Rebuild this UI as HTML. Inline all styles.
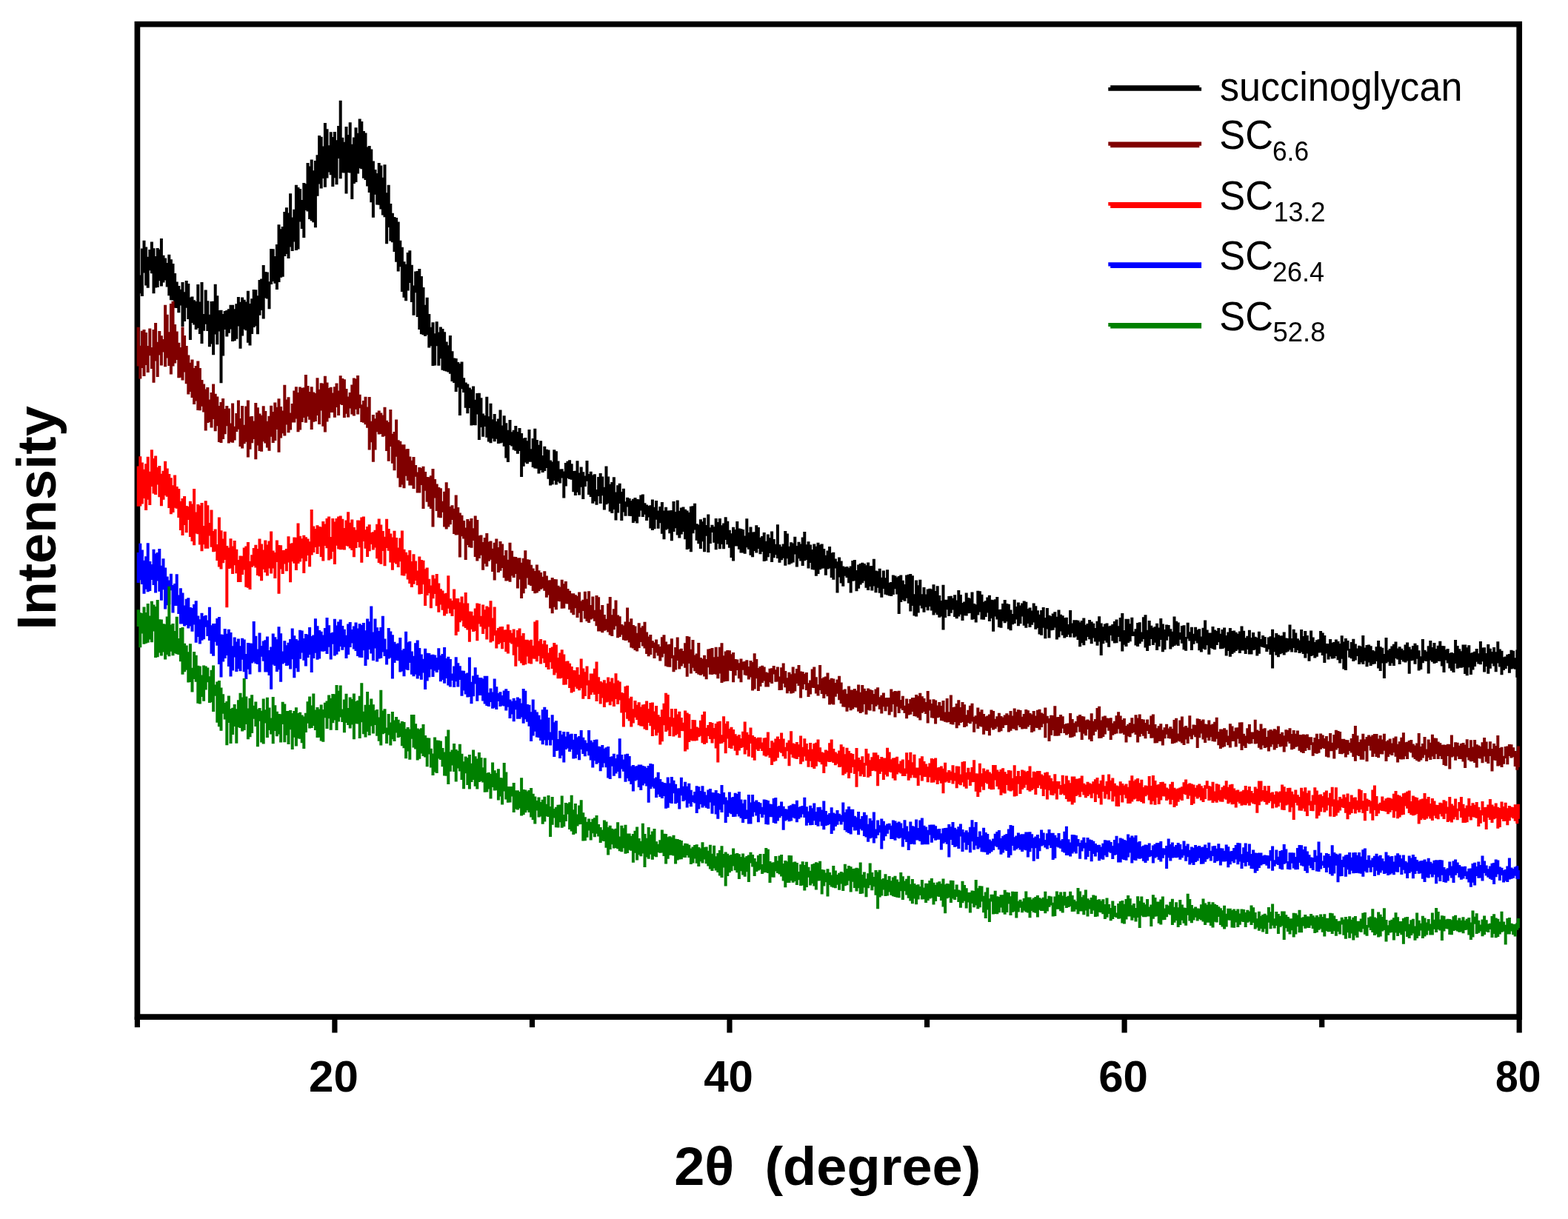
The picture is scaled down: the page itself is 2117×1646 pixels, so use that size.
<!DOCTYPE html>
<html><head><meta charset="utf-8"><title>XRD</title>
<style>
html,body{margin:0;padding:0;background:#fff;width:2117px;height:1646px;overflow:hidden}
svg{display:block}
text{font-family:"Liberation Sans",Arial,sans-serif;fill:#000}
.tl{font-size:60px;font-weight:bold;text-anchor:middle}
.ax{font-size:72.5px;font-weight:bold;white-space:pre}
.lg{font-size:55.5px}
.sub{font-size:36.5px}
</style></head><body>
<svg width="2117" height="1646" viewBox="0 0 2117 1646">
<rect width="2117" height="1646" fill="#fff"/>
<rect x="185.4" y="32.7" width="1865.8" height="1340.4" fill="none" stroke="#000" stroke-width="7.7"/>
<g fill="none" stroke-width="4.00" stroke-linecap="butt">
<path d="M186.7 341.0V377.6M189.3 371.6V396.3M191.9 335.6V399.9M194.5 324.8V368.5M197.1 333.5V385.5M199.7 346.7V388.7M202.3 337.1V365.3M204.9 326.5V369.2M207.5 335.2V396.3M210.1 346.0V388.5M212.7 335.0V388.1M215.3 336.7V379.2M217.9 321.9V386.4M220.5 344.8V381.5M223.1 348.6V378.5M225.7 355.0V387.6M228.3 343.7V399.2M230.9 350.2V405.2M233.5 356.0V405.5M236.1 369.0V415.7M238.7 380.4V416.1M241.3 386.0V422.3M243.9 390.7V412.5M246.5 381.1V440.9M249.1 394.3V434.1M251.7 379.1V415.8M254.3 382.9V430.9M256.9 401.4V459.1M259.5 400.5V436.1M262.1 405.3V438.6M264.7 407.0V444.9M267.3 383.9V443.1M269.9 407.6V451.0M272.5 381.0V464.1M275.1 424.0V446.8M277.7 391.6V437.8M280.3 406.2V446.9M282.9 424.7V468.3M285.5 407.1V464.5M288.1 406.7V479.2M290.7 383.7V451.5M293.3 399.3V465.3M295.9 418.9V447.6M298.5 418.7V517.3M301.1 424.1V480.6M303.7 420.0V445.0M306.3 419.0V454.4M308.9 417.2V449.7M311.5 411.8V444.6M314.1 411.7V461.1M316.7 417.2V460.2M319.3 410.3V457.7M321.9 401.1V440.4M324.5 407.8V470.7M327.1 401.6V453.4M329.7 404.7V444.7M332.3 407.6V446.2M334.9 392.7V462.8M337.5 410.1V466.5M340.1 403.2V451.1M342.7 391.0V442.0M345.3 391.3V440.2M347.9 399.3V451.2M350.5 378.0V425.7M353.1 376.5V418.9M355.7 358.1V430.4M358.3 367.0V402.5M360.9 367.6V403.4M363.5 380.2V417.3M366.1 336.1V384.1M368.7 336.3V379.9M371.3 345.9V382.8M373.9 329.9V391.1M376.5 303.3V381.0M379.1 309.2V374.8M381.7 305.9V373.8M384.3 286.0V345.9M386.9 280.3V343.0M389.5 287.5V349.0M392.1 261.2V333.5M394.7 293.4V338.9M397.3 282.7V326.6M399.9 249.7V338.0M402.5 253.0V336.5M405.1 254.9V299.5M407.7 269.9V309.0M410.3 247.1V321.0M412.9 248.2V284.1M415.5 219.9V285.4M418.1 224.4V296.1M420.7 215.5V298.2M423.3 230.2V300.3M425.9 217.0V307.3M428.5 209.3V264.7M431.1 183.0V248.5M433.7 184.8V254.5M436.3 197.4V240.9M438.9 165.9V252.7M441.5 174.3V240.4M444.1 196.3V232.6M446.7 178.2V236.3M449.3 184.9V251.9M451.9 178.0V240.2M454.5 189.2V249.2M457.1 170.0V214.1M459.7 135.7V241.3M462.3 185.7V233.2M464.9 191.7V233.5M467.5 171.0V261.4M470.1 181.9V232.9M472.7 165.2V233.5M475.3 194.8V269.0M477.9 185.4V248.0M480.5 172.2V246.1M483.1 179.8V234.4M485.7 160.4V227.2M488.3 164.1V228.2M490.9 177.0V240.7M493.5 179.5V243.1M496.1 198.5V251.4M498.7 197.0V260.1M501.3 201.5V273.2M503.9 217.6V293.7M506.5 229.1V262.8M509.1 233.9V276.5M511.7 220.0V276.8M514.3 223.6V282.6M516.9 239.7V290.6M519.5 222.3V293.3M522.1 260.3V329.3M524.7 249.8V307.0M527.3 274.9V325.6M529.9 287.7V327.2M532.5 292.9V340.1M535.1 294.0V353.8M537.7 299.6V366.4M540.3 324.8V360.2M542.9 333.8V394.0M545.5 353.3V401.7M548.1 356.8V406.3M550.7 341.0V392.5M553.3 338.2V382.1M555.9 357.7V408.1M558.5 385.6V425.8M561.1 366.6V395.3M563.7 366.1V428.0M566.3 363.1V445.0M568.9 372.9V451.2M571.5 388.0V452.3M574.1 411.7V454.1M576.7 401.7V452.2M579.3 424.0V469.4M581.9 441.8V467.3M584.5 435.3V494.1M587.1 450.3V493.4M589.7 434.3V467.2M592.3 448.4V493.7M594.9 441.6V484.3M597.5 444.1V499.7M600.1 448.3V500.8M602.7 461.6V501.4M605.3 466.3V502.5M607.9 453.1V504.8M610.5 474.2V515.0M613.1 483.4V517.0M615.7 484.0V528.9M618.3 489.0V523.2M620.9 491.1V561.0M623.5 488.4V525.3M626.1 510.2V530.0M628.7 516.5V550.7M631.3 518.5V558.3M633.9 523.4V551.0M636.5 525.8V574.4M639.1 521.6V573.9M641.7 539.8V574.3M644.3 530.9V559.6M646.9 530.7V594.1M649.5 537.3V577.1M652.1 558.6V589.7M654.7 561.0V575.9M657.3 535.8V590.8M659.9 562.2V596.5M662.5 544.8V598.3M665.1 566.2V592.3M667.7 558.9V596.3M670.3 569.1V592.8M672.9 565.6V599.0M675.5 553.6V598.4M678.1 574.4V597.8M680.7 561.2V602.8M683.3 571.3V618.4M685.9 580.7V624.1M688.5 567.1V601.1M691.1 583.2V602.6M693.7 580.8V607.5M696.3 575.0V608.7M698.9 583.0V612.8M701.5 577.9V609.0M704.1 585.1V644.1M706.7 591.7V629.8M709.3 590.9V624.5M711.9 595.3V626.3M714.5 580.1V623.7M717.1 606.3V623.8M719.7 592.1V631.0M722.3 578.8V632.5M724.9 594.0V632.8M727.5 600.7V639.4M730.1 595.3V635.1M732.7 614.9V638.1M735.3 602.7V635.9M737.9 606.8V631.9M740.5 607.4V646.8M743.1 621.4V655.4M745.7 623.6V654.3M748.3 607.3V649.0M750.9 609.3V654.5M753.5 622.4V650.6M756.1 633.5V652.4M758.7 633.3V645.4M761.3 636.6V672.4M763.9 625.1V656.4M766.5 622.7V645.7M769.1 621.2V646.9M771.7 626.2V647.8M774.3 636.1V664.2M776.9 635.8V669.1M779.5 622.3V664.8M782.1 638.5V668.4M784.7 630.6V657.8M787.3 637.2V674.1M789.9 642.4V657.0M792.5 621.9V649.7M795.1 639.9V667.9M797.7 636.7V671.1M800.3 641.5V679.8M802.9 640.3V677.0M805.5 661.0V681.7M808.1 644.1V670.1M810.7 639.0V679.9M813.3 643.6V669.3M815.9 657.7V688.4M818.5 629.6V681.3M821.1 643.6V679.8M823.7 653.7V690.7M826.3 651.0V692.9M828.9 644.3V688.1M831.5 664.4V702.6M834.1 655.3V692.6M836.7 652.7V679.9M839.3 664.0V702.9M841.9 659.8V691.6M844.5 677.3V696.8M847.1 671.8V684.5M849.7 673.0V696.8M852.3 676.0V696.9M854.9 673.8V706.0M857.5 672.0V703.7M860.1 674.1V706.6M862.7 674.3V697.8M865.3 668.6V689.5M867.9 667.4V698.0M870.5 679.3V694.7M873.1 681.4V703.0M875.7 683.1V698.6M878.3 682.3V713.5M880.9 674.6V716.0M883.5 684.8V714.2M886.1 676.0V701.7M888.7 689.4V713.8M891.3 683.9V706.3M893.9 677.9V720.8M896.5 689.5V728.2M899.1 684.7V715.5M901.7 689.5V714.3M904.3 689.3V720.3M906.9 688.9V730.2M909.5 677.0V717.9M912.1 691.0V713.2M914.7 675.6V722.6M917.3 689.7V726.4M919.9 685.6V721.6M922.5 684.4V717.9M925.1 687.8V728.2M927.7 689.6V741.9M930.3 692.0V741.1M932.9 683.7V745.2M935.5 683.3V720.2M938.1 679.7V715.5M940.7 707.2V729.7M943.3 708.4V734.3M945.9 701.2V740.9M948.5 704.2V731.3M951.1 699.3V745.2M953.7 709.1V723.8M956.3 694.5V746.1M958.9 712.2V734.1M961.5 708.7V719.0M964.1 711.3V732.8M966.7 700.0V742.3M969.3 705.1V734.3M971.9 699.9V741.3M974.5 709.3V734.9M977.1 706.6V741.3M979.7 698.2V729.1M982.3 703.8V735.2M984.9 715.8V739.8M987.5 720.3V753.1M990.1 711.8V757.6M992.7 714.9V737.4M995.3 704.1V737.6M997.9 713.4V741.8M1000.5 714.1V746.4M1003.1 715.1V746.4M1005.7 723.4V747.8M1008.3 700.3V739.3M1010.9 719.1V741.8M1013.5 711.5V749.7M1016.1 718.5V752.2M1018.7 718.3V743.9M1021.3 709.2V746.5M1023.9 712.1V741.0M1026.5 725.7V748.2M1029.1 724.1V745.0M1031.7 718.9V758.0M1034.3 730.7V757.2M1036.9 721.6V752.2M1039.5 726.3V747.0M1042.1 717.4V759.0M1044.7 728.1V753.2M1047.3 734.7V749.3M1049.9 708.2V754.1M1052.5 735.2V759.8M1055.1 738.1V756.2M1057.7 734.5V753.7M1060.3 717.0V763.7M1062.9 720.6V754.2M1065.5 737.7V762.3M1068.1 732.3V760.8M1070.7 733.6V759.4M1073.3 724.8V748.4M1075.9 737.1V765.6M1078.5 731.8V754.3M1081.1 734.6V757.5M1083.7 725.5V764.1M1086.3 717.9V757.2M1088.9 735.2V755.9M1091.5 731.3V767.5M1094.1 735.4V760.1M1096.7 742.0V769.0M1099.3 734.5V769.6M1101.9 737.7V777.7M1104.5 732.7V774.9M1107.1 735.4V769.3M1109.7 734.6V767.8M1112.3 740.9V767.6M1114.9 749.7V776.7M1117.5 743.4V768.5M1120.1 737.9V767.4M1122.7 746.6V780.1M1125.3 745.8V782.7M1127.9 754.5V767.6M1130.5 758.3V800.6M1133.1 752.4V779.5M1135.7 757.5V787.6M1138.3 764.6V791.8M1140.9 765.7V777.8M1143.5 765.1V779.9M1146.1 766.7V787.2M1148.7 764.5V800.4M1151.3 757.0V784.8M1153.9 756.1V784.3M1156.5 770.1V798.3M1159.1 762.6V794.7M1161.7 761.0V789.4M1164.3 759.7V787.2M1166.9 760.9V784.5M1169.5 763.2V793.7M1172.1 759.6V797.0M1174.7 764.3V792.0M1177.3 764.1V797.4M1179.9 754.7V791.4M1182.5 770.6V800.3M1185.1 771.3V793.8M1187.7 767.8V800.8M1190.3 779.8V806.8M1192.9 770.6V795.0M1195.5 780.2V802.7M1198.1 769.3V803.6M1200.7 786.7V804.6M1203.3 785.9V805.1M1205.9 776.6V803.0M1208.5 777.6V795.3M1211.1 779.4V802.6M1213.7 778.0V828.9M1216.3 776.5V813.1M1218.9 783.7V809.9M1221.5 789.1V811.8M1224.1 776.6V807.8M1226.7 775.8V814.8M1229.3 774.9V825.4M1231.9 777.2V817.9M1234.5 802.2V831.5M1237.1 783.6V832.4M1239.7 790.3V827.5M1242.3 782.8V817.8M1244.9 802.3V821.5M1247.5 792.9V826.7M1250.1 802.6V819.7M1252.7 795.6V824.3M1255.3 794.8V818.9M1257.9 795.4V824.5M1260.5 789.2V830.6M1263.1 797.9V827.4M1265.7 791.3V830.3M1268.3 803.9V833.7M1270.9 811.0V832.4M1273.5 789.7V850.5M1276.1 809.7V833.9M1278.7 809.8V823.3M1281.3 804.9V832.0M1283.9 804.8V827.8M1286.5 807.7V823.4M1289.1 803.2V833.0M1291.7 810.5V835.2M1294.3 797.1V832.6M1296.9 803.1V829.7M1299.5 813.9V838.0M1302.1 812.6V831.2M1304.7 800.4V831.4M1307.3 806.9V828.2M1309.9 807.9V828.1M1312.5 799.6V836.7M1315.1 814.9V836.0M1317.7 816.2V840.6M1320.3 797.8V830.5M1322.9 798.2V826.5M1325.5 802.8V836.4M1328.1 812.7V836.8M1330.7 811.3V833.0M1333.3 806.5V827.5M1335.9 803.7V839.0M1338.5 809.8V834.9M1341.1 810.2V852.7M1343.7 809.3V832.6M1346.3 805.9V836.4M1348.9 823.1V847.0M1351.5 822.8V847.8M1354.1 815.1V838.7M1356.7 810.0V841.3M1359.3 815.1V839.2M1361.9 815.7V849.4M1364.5 823.5V851.3M1367.1 829.0V843.2M1369.7 809.7V842.0M1372.3 819.0V836.6M1374.9 813.6V845.3M1377.5 817.5V842.2M1380.1 814.4V832.4M1382.7 811.5V844.7M1385.3 812.7V847.7M1387.9 821.9V842.0M1390.5 820.6V847.1M1393.1 824.4V843.7M1395.7 814.6V840.5M1398.3 818.3V849.7M1400.9 824.2V847.9M1403.5 829.7V856.6M1406.1 823.9V857.8M1408.7 819.9V847.8M1411.3 834.0V862.2M1413.9 820.9V849.4M1416.5 830.8V861.4M1419.1 831.9V851.2M1421.7 828.4V850.8M1424.3 826.3V847.6M1426.9 832.8V863.4M1429.5 823.5V860.4M1432.1 829.8V852.5M1434.7 831.3V857.7M1437.3 834.3V861.4M1439.9 833.7V859.9M1442.5 843.0V856.9M1445.1 823.9V860.5M1447.7 841.6V855.2M1450.3 837.3V860.8M1452.9 837.3V859.6M1455.5 837.8V864.0M1458.1 840.3V873.2M1460.7 838.0V868.2M1463.3 834.6V871.3M1465.9 843.7V865.0M1468.5 841.9V859.9M1471.1 837.1V863.3M1473.7 839.5V869.2M1476.3 841.7V861.4M1478.9 848.0V866.5M1481.5 838.8V871.7M1484.1 832.2V866.4M1486.7 841.6V885.1M1489.3 846.2V869.2M1491.9 842.6V864.9M1494.5 841.6V867.7M1497.1 845.5V873.7M1499.7 844.8V857.9M1502.3 843.1V865.4M1504.9 838.9V868.6M1507.5 836.6V868.2M1510.1 845.2V859.9M1512.7 834.0V866.2M1515.3 828.1V879.6M1517.9 851.1V870.8M1520.5 835.8V873.1M1523.1 835.8V867.9M1525.7 842.3V866.3M1528.3 833.8V859.0M1530.9 852.7V859.0M1533.5 849.3V871.6M1536.1 840.9V873.1M1538.7 840.2V869.2M1541.3 853.4V866.6M1543.9 833.3V863.0M1546.5 830.3V874.4M1549.1 850.7V879.0M1551.7 838.1V872.1M1554.3 844.8V862.9M1556.9 847.6V871.1M1559.5 846.2V867.8M1562.1 841.8V877.9M1564.7 847.4V872.9M1567.3 835.0V864.0M1569.9 842.6V880.3M1572.5 849.9V877.2M1575.1 843.6V864.8M1577.7 844.0V859.6M1580.3 849.3V876.4M1582.9 852.8V873.4M1585.5 832.6V872.1M1588.1 838.7V870.4M1590.7 840.4V871.9M1593.3 853.9V863.7M1595.9 845.1V868.7M1598.5 844.2V877.2M1601.1 860.0V878.8M1603.7 840.8V862.6M1606.3 853.2V865.6M1608.9 846.8V878.1M1611.5 855.8V869.7M1614.1 846.8V865.4M1616.7 850.5V868.4M1619.3 849.3V878.3M1621.9 859.5V880.5M1624.5 847.8V876.1M1627.1 837.5V877.2M1629.7 850.5V871.3M1632.3 854.6V883.8M1634.9 854.6V875.0M1637.5 846.1V876.3M1640.1 850.5V877.3M1642.7 851.9V871.1M1645.3 847.9V867.2M1647.9 855.8V876.2M1650.5 850.1V876.1M1653.1 847.6V874.7M1655.7 857.9V885.4M1658.3 853.4V879.0M1660.9 847.9V886.8M1663.5 852.0V883.1M1666.1 851.5V881.2M1668.7 853.7V878.9M1671.3 855.7V877.3M1673.9 852.5V882.0M1676.5 845.6V878.4M1679.1 851.7V878.4M1681.7 861.2V883.0M1684.3 858.8V877.1M1686.9 850.8V883.5M1689.5 861.1V883.4M1692.1 853.9V877.9M1694.7 859.7V877.2M1697.3 861.1V885.6M1699.9 852.8V882.7M1702.5 863.0V873.3M1705.1 857.9V874.0M1707.7 859.9V874.8M1710.3 870.1V879.9M1712.9 860.4V876.7M1715.5 859.3V884.1M1718.1 849.8V902.6M1720.7 860.7V880.3M1723.3 854.9V884.8M1725.9 857.2V887.3M1728.5 858.5V883.2M1731.1 858.3V882.0M1733.7 853.6V884.6M1736.3 861.6V880.9M1738.9 862.0V879.8M1741.5 843.5V877.6M1744.1 861.9V880.5M1746.7 849.8V875.0M1749.3 854.6V881.0M1751.9 862.2V878.1M1754.5 864.4V881.9M1757.1 849.9V880.4M1759.7 859.0V883.0M1762.3 851.9V888.5M1764.9 857.9V882.4M1767.5 865.2V892.8M1770.1 851.4V885.9M1772.7 860.6V884.9M1775.3 866.9V888.6M1777.9 864.2V886.7M1780.5 863.2V881.6M1783.1 852.0V881.3M1785.7 854.4V885.1M1788.3 858.0V895.0M1790.9 869.1V882.5M1793.5 869.2V890.5M1796.1 863.0V886.4M1798.7 867.8V889.5M1801.3 866.9V888.9M1803.9 863.4V886.0M1806.5 866.1V891.2M1809.1 868.9V895.6M1811.7 858.3V889.8M1814.3 866.6V903.5M1816.9 861.9V905.1M1819.5 865.0V878.5M1822.1 875.9V887.7M1824.7 866.9V889.2M1827.3 862.7V893.1M1829.9 869.5V891.6M1832.5 875.5V886.1M1835.1 871.8V897.1M1837.7 872.8V894.4M1840.3 857.9V897.0M1842.9 874.4V892.5M1845.5 871.1V900.3M1848.1 870.5V894.5M1850.7 872.2V898.9M1853.3 878.0V897.0M1855.9 879.3V896.6M1858.5 873.2V893.1M1861.1 865.0V902.5M1863.7 873.2V906.1M1866.3 874.8V895.5M1868.9 882.9V916.1M1871.5 860.9V895.4M1874.1 878.1V893.7M1876.7 876.0V899.1M1879.3 872.5V895.4M1881.9 869.8V899.0M1884.5 866.4V888.9M1887.1 875.5V890.6M1889.7 873.3V897.1M1892.3 875.8V891.1M1894.9 878.0V893.6M1897.5 870.4V894.4M1900.1 867.4V892.6M1902.7 873.4V909.7M1905.3 876.7V892.2M1907.9 872.1V891.7M1910.5 868.7V896.8M1913.1 871.2V889.7M1915.7 878.3V905.5M1918.3 886.2V903.9M1920.9 862.9V895.2M1923.5 877.7V892.4M1926.1 879.8V893.1M1928.7 872.2V909.5M1931.3 864.9V891.7M1933.9 873.9V893.8M1936.5 867.9V896.1M1939.1 876.0V895.1M1941.7 871.8V892.7M1944.3 865.8V893.0M1946.9 872.0V899.6M1949.5 872.3V908.1M1952.1 877.2V891.5M1954.7 876.0V895.4M1957.3 881.9V902.6M1959.9 881.0V905.8M1962.5 882.1V908.1M1965.1 864.1V896.1M1967.7 872.1V902.7M1970.3 876.2V901.8M1972.9 879.3V901.8M1975.5 870.5V901.0M1978.1 870.5V909.9M1980.7 874.2V912.2M1983.3 871.3V901.3M1985.9 881.7V910.9M1988.5 881.1V904.4M1991.1 879.8V899.9M1993.7 876.0V893.8M1996.3 882.3V896.6M1998.9 865.9V897.2M2001.5 874.4V893.3M2004.1 874.3V907.4M2006.7 882.0V899.9M2009.3 870.0V909.7M2011.9 875.7V902.8M2014.5 879.9V895.9M2017.1 874.1V899.6M2019.7 880.2V907.2M2022.3 866.3V895.4M2024.9 876.4V900.5M2027.5 878.7V911.3M2030.1 887.2V905.0M2032.7 886.5V903.0M2035.3 883.7V899.3M2037.9 883.0V908.8M2040.5 877.8V903.6M2043.1 878.8V902.7M2045.7 888.3V903.8M2048.3 877.5V914.8M2049.9 876.9V894.8" stroke="#000000"/>
<path d="M186.7 441.7V494.5M189.3 466.8V511.5M191.9 446.8V497.0M194.5 444.9V508.1M197.1 449.0V493.0M199.7 467.1V503.1M202.3 443.6V480.3M204.9 469.1V498.0M207.5 445.1V516.8M210.1 436.0V487.6M212.7 461.7V509.0M215.3 447.0V479.4M217.9 453.2V493.6M220.5 457.9V475.4M223.1 411.7V495.2M225.7 424.7V483.4M228.3 448.3V493.9M230.9 409.9V505.6M233.5 406.7V494.4M236.1 438.1V490.4M238.7 447.6V485.9M241.3 462.7V510.2M243.9 468.9V509.8M246.5 441.6V513.5M249.1 452.9V502.4M251.7 466.9V518.3M254.3 479.5V532.6M256.9 489.7V528.9M259.5 485.4V536.9M262.1 497.1V545.9M264.7 494.0V541.6M267.3 487.4V554.0M269.9 496.9V554.2M272.5 513.0V548.7M275.1 518.4V556.5M277.7 525.6V581.6M280.3 523.1V570.9M282.9 539.5V569.9M285.5 530.0V577.5M288.1 518.4V566.1M290.7 531.7V582.3M293.3 535.5V575.2M295.9 548.0V596.9M298.5 543.0V598.0M301.1 537.9V592.9M303.7 551.9V586.2M306.3 548.0V575.3M308.9 551.5V598.4M311.5 571.5V596.7M314.1 544.5V597.8M316.7 575.7V594.4M319.3 557.9V583.0M321.9 540.4V579.8M324.5 565.0V603.1M327.1 548.0V605.4M329.7 573.7V599.3M332.3 548.6V596.8M334.9 540.4V617.4M337.5 562.6V606.8M340.1 561.9V598.3M342.7 568.6V593.0M345.3 543.9V620.2M347.9 550.3V601.5M350.5 558.6V609.1M353.1 560.7V609.7M355.7 548.2V596.3M358.3 555.1V598.5M360.9 568.8V604.5M363.5 561.8V608.7M366.1 547.8V589.8M368.7 556.1V598.1M371.3 543.6V595.1M373.9 549.7V580.1M376.5 538.3V610.8M379.1 549.1V591.4M381.7 554.6V585.3M384.3 519.8V588.5M386.9 539.5V573.6M389.5 536.3V584.3M392.1 557.6V580.4M394.7 545.1V570.4M397.3 527.5V570.6M399.9 522.3V565.4M402.5 530.0V583.3M405.1 522.4V580.5M407.7 523.9V570.0M410.3 523.2V564.0M412.9 505.9V570.7M415.5 521.1V562.4M418.1 528.9V566.8M420.7 522.2V580.1M423.3 529.6V569.7M425.9 530.9V569.0M428.5 510.3V561.1M431.1 525.7V572.9M433.7 517.3V554.4M436.3 517.7V575.7M438.9 507.8V583.4M441.5 516.6V569.4M444.1 524.0V564.4M446.7 522.7V557.0M449.3 530.5V556.9M451.9 522.3V563.8M454.5 517.5V549.9M457.1 527.5V560.9M459.7 507.2V546.0M462.3 510.9V546.9M464.9 512.3V563.9M467.5 525.1V558.8M470.1 535.6V563.6M472.7 529.9V551.6M475.3 519.6V559.6M477.9 510.6V561.4M480.5 511.6V552.7M483.1 507.0V559.5M485.7 532.7V551.3M488.3 546.3V569.9M490.9 541.0V570.8M493.5 535.7V573.2M496.1 549.5V577.7M498.7 536.0V607.6M501.3 568.7V597.2M503.9 559.9V623.8M506.5 565.2V607.4M509.1 556.9V583.3M511.7 554.5V586.4M514.3 557.6V585.9M516.9 560.5V589.7M519.5 549.8V588.8M522.1 567.8V608.9M524.7 570.0V622.7M527.3 553.0V603.1M529.9 585.7V625.8M532.5 583.1V635.3M535.1 566.4V616.7M537.7 594.2V645.5M540.3 595.7V657.7M542.9 600.2V654.6M545.5 600.2V659.2M548.1 606.6V642.7M550.7 606.0V649.1M553.3 616.5V655.6M555.9 621.7V655.4M558.5 616.9V660.0M561.1 628.0V643.7M563.7 637.4V665.4M566.3 631.1V665.4M568.9 632.0V655.0M571.5 629.7V687.0M574.1 636.9V662.8M576.7 644.1V677.8M579.3 644.3V684.2M581.9 642.2V687.1M584.5 633.1V711.5M587.1 646.9V672.4M589.7 653.4V689.9M592.3 657.9V698.7M594.9 659.2V699.3M597.5 676.8V691.8M600.1 663.7V711.4M602.7 651.3V714.4M605.3 659.2V711.4M607.9 683.9V708.2M610.5 682.3V702.0M613.1 686.7V721.1M615.7 668.6V722.5M618.3 685.1V722.2M620.9 692.5V752.6M623.5 695.8V724.2M626.1 702.9V727.4M628.7 712.4V755.9M631.3 700.9V736.0M633.9 703.6V739.0M636.5 700.0V739.7M639.1 713.2V729.9M641.7 696.6V751.9M644.3 702.1V757.5M646.9 723.3V753.9M649.5 722.6V749.8M652.1 731.9V769.8M654.7 726.1V761.2M657.3 720.1V765.1M659.9 731.4V757.8M662.5 730.6V755.8M665.1 740.8V772.0M667.7 732.8V783.5M670.3 727.6V761.2M672.9 739.1V773.0M675.5 731.1V770.7M678.1 734.5V767.1M680.7 750.0V780.2M683.3 743.0V784.4M685.9 755.8V784.1M688.5 732.8V785.7M691.1 743.7V777.4M693.7 751.8V779.9M696.3 752.1V775.1M698.9 753.6V794.6M701.5 753.2V782.5M704.1 759.7V808.1M706.7 753.8V801.3M709.3 743.3V794.7M711.9 755.2V780.5M714.5 755.7V789.7M717.1 762.8V790.9M719.7 767.6V798.0M722.3 770.9V801.3M724.9 762.4V800.5M727.5 770.2V798.2M730.1 773.0V795.8M732.7 778.7V794.4M735.3 771.3V797.8M737.9 777.6V806.8M740.5 783.5V803.4M743.1 783.3V821.6M745.7 779.9V828.3M748.3 782.1V819.8M750.9 782.2V823.2M753.5 790.7V811.8M756.1 792.4V812.3M758.7 782.7V821.7M761.3 788.2V821.5M763.9 784.9V815.3M766.5 794.9V815.4M769.1 797.8V823.3M771.7 801.3V827.5M774.3 801.2V830.3M776.9 803.3V821.3M779.5 804.8V834.0M782.1 799.4V827.8M784.7 811.5V840.3M787.3 809.7V825.0M789.9 798.7V835.4M792.5 808.7V838.9M795.1 798.2V841.0M797.7 816.9V836.4M800.3 805.5V835.3M802.9 823.8V838.7M805.5 804.0V845.2M808.1 806.2V852.4M810.7 823.2V852.6M813.3 817.0V854.3M815.9 830.1V851.7M818.5 835.7V850.7M821.1 815.1V853.4M823.7 805.9V857.4M826.3 830.3V858.9M828.9 822.2V850.2M831.5 810.4V845.5M834.1 830.4V861.2M836.7 832.2V860.0M839.3 843.1V857.2M841.9 844.4V864.3M844.5 839.5V865.1M847.1 820.6V864.5M849.7 839.8V867.6M852.3 835.3V874.6M854.9 844.0V875.6M857.5 845.5V877.9M860.1 854.8V879.4M862.7 841.3V875.1M865.3 847.6V866.9M867.9 845.3V872.5M870.5 839.7V875.5M873.1 853.4V882.9M875.7 859.5V886.2M878.3 857.0V884.1M880.9 865.3V874.9M883.5 867.4V889.1M886.1 863.4V881.6M888.7 870.1V885.4M891.3 873.0V892.5M893.9 860.3V887.4M896.5 857.2V882.8M899.1 866.6V899.5M901.7 870.3V900.6M904.3 869.7V900.8M906.9 862.3V889.0M909.5 884.8V907.2M912.1 874.1V904.6M914.7 860.6V891.9M917.3 876.7V903.5M919.9 875.7V899.5M922.5 879.0V896.2M925.1 868.3V901.8M927.7 859.1V913.8M930.3 859.7V896.0M932.9 876.8V909.4M935.5 864.0V901.8M938.1 884.4V906.3M940.7 882.4V908.9M943.3 868.1V910.8M945.9 888.0V911.7M948.5 889.5V910.4M951.1 884.7V913.6M953.7 890.0V917.3M956.3 876.6V901.3M958.9 876.1V910.7M961.5 874.9V911.0M964.1 887.3V909.9M966.7 873.8V910.7M969.3 886.7V916.3M971.9 873.7V909.5M974.5 868.3V922.1M977.1 885.2V920.6M979.7 879.5V920.1M982.3 878.0V919.8M984.9 878.3V905.4M987.5 883.2V905.9M990.1 881.1V921.2M992.7 890.0V912.2M995.3 890.4V905.1M997.9 895.3V916.2M1000.5 889.4V921.3M1003.1 893.6V904.8M1005.7 893.1V911.6M1008.3 891.2V912.2M1010.9 900.1V917.4M1013.5 892.0V914.4M1016.1 894.1V932.4M1018.7 882.2V930.6M1021.3 890.1V916.3M1023.9 902.0V932.9M1026.5 899.9V926.9M1029.1 898.7V922.0M1031.7 900.5V919.6M1034.3 907.4V927.5M1036.9 908.5V927.4M1039.5 902.7V921.2M1042.1 902.2V922.9M1044.7 898.9V910.6M1047.3 904.2V920.7M1049.9 900.5V920.6M1052.5 913.4V932.0M1055.1 901.2V931.8M1057.7 895.5V923.0M1060.3 905.9V928.2M1062.9 915.2V936.2M1065.5 907.8V933.3M1068.1 910.3V936.6M1070.7 900.4V935.8M1073.3 909.3V933.5M1075.9 902.9V923.0M1078.5 898.0V926.0M1081.1 906.4V942.6M1083.7 907.0V930.8M1086.3 909.7V924.1M1088.9 908.1V932.1M1091.5 922.2V941.1M1094.1 918.5V937.4M1096.7 903.4V928.8M1099.3 900.5V928.9M1101.9 914.3V936.5M1104.5 924.3V939.4M1107.1 897.9V932.0M1109.7 916.0V936.9M1112.3 914.4V943.1M1114.9 913.6V937.6M1117.5 908.4V940.3M1120.1 917.7V951.4M1122.7 915.8V950.6M1125.3 916.6V951.4M1127.9 921.9V940.8M1130.5 917.5V936.8M1133.1 912.7V945.2M1135.7 921.6V950.1M1138.3 931.6V954.4M1140.9 930.4V954.8M1143.5 936.7V960.7M1146.1 926.6V955.6M1148.7 931.4V959.2M1151.3 931.5V957.6M1153.9 930.0V955.1M1156.5 932.5V955.6M1159.1 924.4V960.7M1161.7 934.7V963.0M1164.3 925.1V961.4M1166.9 929.7V950.9M1169.5 933.1V964.7M1172.1 929.4V958.7M1174.7 930.9V959.5M1177.3 932.1V950.9M1179.9 937.0V960.4M1182.5 930.5V953.7M1185.1 928.3V951.7M1187.7 941.2V957.8M1190.3 938.8V963.6M1192.9 935.5V954.2M1195.5 942.3V960.3M1198.1 941.9V954.3M1200.7 941.9V965.6M1203.3 930.6V961.3M1205.9 934.2V951.1M1208.5 933.0V968.4M1211.1 933.4V954.3M1213.7 932.7V963.1M1216.3 945.1V956.7M1218.9 939.8V959.0M1221.5 952.8V963.1M1224.1 943.4V970.2M1226.7 949.9V965.5M1229.3 944.0V964.7M1231.9 942.0V961.1M1234.5 941.9V967.0M1237.1 938.0V967.6M1239.7 939.8V969.2M1242.3 935.7V972.4M1244.9 940.3V962.7M1247.5 943.0V961.1M1250.1 948.1V963.9M1252.7 933.1V976.6M1255.3 944.6V959.4M1257.9 950.0V969.2M1260.5 944.3V969.8M1263.1 945.5V977.5M1265.7 952.6V969.2M1268.3 948.0V968.5M1270.9 953.1V972.9M1273.5 945.9V973.6M1276.1 961.4V974.8M1278.7 943.1V975.6M1281.3 961.3V974.9M1283.9 938.5V977.7M1286.5 955.1V978.5M1289.1 954.6V974.9M1291.7 949.9V983.2M1294.3 945.3V979.5M1296.9 954.9V975.9M1299.5 948.0V975.0M1302.1 951.2V982.0M1304.7 965.2V980.8M1307.3 958.8V976.0M1309.9 952.7V977.2M1312.5 949.7V974.5M1315.1 967.7V988.8M1317.7 966.3V977.4M1320.3 955.5V983.9M1322.9 961.2V980.8M1325.5 958.3V981.4M1328.1 964.0V991.8M1330.7 967.4V986.6M1333.3 966.5V987.0M1335.9 964.4V993.3M1338.5 958.5V982.7M1341.1 959.9V985.4M1343.7 970.8V984.1M1346.3 967.2V981.6M1348.9 962.8V988.5M1351.5 966.9V987.3M1354.1 968.5V983.1M1356.7 965.6V979.3M1359.3 963.2V979.0M1361.9 965.6V988.6M1364.5 960.1V986.7M1367.1 966.6V983.9M1369.7 956.4V984.5M1372.3 961.2V986.3M1374.9 958.3V979.5M1377.5 959.0V982.0M1380.1 967.8V984.5M1382.7 964.0V983.9M1385.3 958.1V984.2M1387.9 959.3V981.6M1390.5 963.1V979.0M1393.1 964.6V989.0M1395.7 960.0V987.5M1398.3 966.5V982.8M1400.9 958.7V983.1M1403.5 957.8V985.6M1406.1 962.6V982.1M1408.7 963.8V977.5M1411.3 955.5V996.3M1413.9 966.8V976.4M1416.5 969.9V1000.9M1419.1 965.8V992.7M1421.7 965.9V986.1M1424.3 953.2V993.8M1426.9 968.3V993.8M1429.5 967.9V993.5M1432.1 964.9V989.9M1434.7 967.2V983.8M1437.3 977.9V990.0M1439.9 976.9V992.6M1442.5 976.6V991.1M1445.1 962.9V995.9M1447.7 971.0V995.5M1450.3 976.3V994.2M1452.9 974.0V989.2M1455.5 966.8V981.4M1458.1 965.0V988.6M1460.7 966.9V998.9M1463.3 967.4V990.8M1465.9 972.4V993.2M1468.5 971.4V985.1M1471.1 973.0V998.5M1473.7 963.2V1000.9M1476.3 973.8V993.0M1478.9 971.1V987.9M1481.5 956.0V985.6M1484.1 953.8V997.1M1486.7 972.4V996.7M1489.3 967.6V994.9M1491.9 966.6V991.4M1494.5 969.6V982.5M1497.1 969.9V986.7M1499.7 969.2V998.9M1502.3 976.4V992.8M1504.9 973.7V991.3M1507.5 966.2V990.4M1510.1 961.3V984.6M1512.7 966.5V990.5M1515.3 972.0V989.7M1517.9 970.0V992.0M1520.5 980.0V1002.6M1523.1 978.1V994.3M1525.7 976.0V995.3M1528.3 969.3V990.2M1530.9 977.6V989.1M1533.5 965.2V992.1M1536.1 969.5V1002.5M1538.7 964.5V994.7M1541.3 970.9V991.0M1543.9 971.5V993.8M1546.5 976.0V997.3M1549.1 971.4V987.0M1551.7 978.6V991.1M1554.3 966.6V996.8M1556.9 964.4V996.4M1559.5 977.9V1003.5M1562.1 983.3V1003.2M1564.7 980.2V1000.9M1567.3 977.2V1001.0M1569.9 985.4V1006.4M1572.5 982.2V997.3M1575.1 977.8V991.7M1577.7 983.6V997.1M1580.3 981.2V997.4M1582.9 984.1V1004.2M1585.5 971.9V1003.5M1588.1 969.8V1002.5M1590.7 990.5V1000.4M1593.3 972.4V1001.6M1595.9 967.4V1003.6M1598.5 981.5V1006.0M1601.1 980.1V998.4M1603.7 982.4V1004.1M1606.3 966.2V994.5M1608.9 984.1V998.2M1611.5 978.6V992.6M1614.1 978.9V995.3M1616.7 970.3V1009.9M1619.3 971.0V996.3M1621.9 973.3V990.6M1624.5 971.5V998.5M1627.1 977.6V1002.9M1629.7 978.0V995.9M1632.3 972.6V1000.0M1634.9 978.5V995.3M1637.5 977.5V1001.0M1640.1 974.7V1001.4M1642.7 968.8V997.7M1645.3 988.1V1006.2M1647.9 984.5V1011.1M1650.5 984.8V1009.2M1653.1 983.2V1008.3M1655.7 985.4V1002.2M1658.3 993.6V1006.2M1660.9 977.2V1009.5M1663.5 980.6V1001.0M1666.1 987.3V1000.9M1668.7 982.4V1008.4M1671.3 982.3V997.7M1673.9 975.4V1003.9M1676.5 975.3V1012.9M1679.1 990.7V1007.2M1681.7 993.5V1009.9M1684.3 983.2V1003.6M1686.9 977.9V1004.6M1689.5 988.4V1003.9M1692.1 988.6V997.9M1694.7 971.8V1004.5M1697.3 985.6V1004.1M1699.9 987.1V1009.8M1702.5 977.5V1012.0M1705.1 984.2V1006.5M1707.7 983.2V1010.0M1710.3 994.9V1009.0M1712.9 986.6V1014.4M1715.5 985.1V1008.4M1718.1 986.5V1005.2M1720.7 984.3V1012.5M1723.3 985.6V1010.1M1725.9 980.6V1004.7M1728.5 991.1V1008.4M1731.1 988.7V1007.8M1733.7 993.3V1015.4M1736.3 985.3V1008.3M1738.9 986.0V1001.6M1741.5 983.3V1003.9M1744.1 990.9V1012.3M1746.7 986.0V1011.3M1749.3 990.8V1008.7M1751.9 986.5V1008.0M1754.5 992.1V1013.7M1757.1 992.3V1015.8M1759.7 991.5V1016.9M1762.3 992.3V1014.0M1764.9 991.6V1010.1M1767.5 995.2V1012.8M1770.1 995.2V1005.9M1772.7 1002.3V1020.8M1775.3 996.1V1016.9M1777.9 990.7V1017.7M1780.5 997.9V1016.8M1783.1 990.6V1011.7M1785.7 992.5V1009.9M1788.3 997.1V1011.0M1790.9 994.0V1021.8M1793.5 1000.7V1022.7M1796.1 990.0V1014.2M1798.7 1002.8V1014.3M1801.3 992.0V1024.6M1803.9 985.7V1012.5M1806.5 986.9V1010.2M1809.1 987.9V1017.9M1811.7 997.7V1018.3M1814.3 997.7V1016.9M1816.9 999.1V1022.6M1819.5 999.3V1019.0M1822.1 1002.8V1013.9M1824.7 997.0V1016.5M1827.3 991.0V1021.9M1829.9 979.9V1027.7M1832.5 993.2V1020.0M1835.1 1001.9V1021.1M1837.7 998.6V1025.8M1840.3 990.7V1025.8M1842.9 998.2V1014.2M1845.5 995.1V1028.2M1848.1 992.5V1006.9M1850.7 994.5V1013.4M1853.3 992.4V1022.1M1855.9 991.0V1017.7M1858.5 991.0V1022.1M1861.1 997.5V1023.3M1863.7 993.0V1018.2M1866.3 998.4V1018.4M1868.9 990.7V1013.7M1871.5 1000.9V1028.1M1874.1 999.4V1022.0M1876.7 997.4V1018.4M1879.3 1003.5V1019.9M1881.9 996.5V1016.2M1884.5 994.4V1021.8M1887.1 1004.8V1029.6M1889.7 1001.2V1025.0M1892.3 995.7V1025.6M1894.9 989.3V1025.2M1897.5 1002.3V1021.3M1900.1 1001.7V1025.1M1902.7 1000.1V1015.2M1905.3 999.0V1016.4M1907.9 1004.4V1022.7M1910.5 1006.4V1024.9M1913.1 1003.4V1027.1M1915.7 990.1V1028.6M1918.3 1007.9V1026.5M1920.9 1003.9V1023.4M1923.5 995.1V1019.4M1926.1 1011.5V1028.0M1928.7 998.5V1023.1M1931.3 1002.8V1026.0M1933.9 991.8V1021.4M1936.5 996.6V1025.0M1939.1 996.7V1018.2M1941.7 1001.4V1025.0M1944.3 1003.3V1020.9M1946.9 1005.7V1024.9M1949.5 1005.5V1032.9M1952.1 1006.0V1034.3M1954.7 1004.8V1020.9M1957.3 1005.0V1038.5M1959.9 992.4V1022.4M1962.5 1008.7V1021.4M1965.1 1002.2V1026.7M1967.7 1002.7V1021.6M1970.3 1006.8V1025.1M1972.9 1004.1V1025.0M1975.5 1002.9V1028.4M1978.1 1005.5V1037.0M1980.7 998.2V1022.4M1983.3 1009.9V1026.5M1985.9 999.2V1028.3M1988.5 1008.4V1028.1M1991.1 998.9V1030.1M1993.7 1005.3V1036.5M1996.3 1006.6V1024.0M1998.9 1007.9V1024.5M2001.5 1002.3V1030.2M2004.1 996.0V1021.4M2006.7 1001.6V1028.7M2009.3 1011.2V1031.1M2011.9 1001.3V1021.1M2014.5 1011.1V1041.6M2017.1 1003.9V1026.6M2019.7 1006.9V1026.9M2022.3 992.9V1034.4M2024.9 1009.9V1033.7M2027.5 1008.7V1035.9M2030.1 1020.7V1031.7M2032.7 1007.9V1024.1M2035.3 1007.4V1032.3M2037.9 1005.0V1020.9M2040.5 1005.3V1023.6M2043.1 1009.3V1022.2M2045.7 1014.0V1034.9M2048.3 1017.5V1039.7M2049.9 1007.4V1036.1" stroke="#800000"/>
<path d="M186.7 629.6V683.7M189.3 616.3V683.4M191.9 624.4V680.5M194.5 633.7V672.9M197.1 626.2V688.9M199.7 616.8V674.7M202.3 636.7V681.9M204.9 607.2V657.0M207.5 619.0V666.5M210.1 615.6V668.1M212.7 630.9V654.5M215.3 628.9V671.3M217.9 639.8V683.2M220.5 635.8V674.7M223.1 622.7V669.0M225.7 632.6V670.7M228.3 640.0V686.0M230.9 645.3V694.2M233.5 655.2V691.9M236.1 641.4V685.8M238.7 657.1V686.8M241.3 660.0V698.9M243.9 676.7V716.1M246.5 673.1V722.9M249.1 669.9V709.1M251.7 682.9V719.3M254.3 684.0V701.9M256.9 676.8V724.9M259.5 680.6V731.0M262.1 659.9V736.2M264.7 691.4V720.6M267.3 680.9V721.3M269.9 682.5V735.5M272.5 678.9V744.2M275.1 709.9V735.3M277.7 676.2V740.7M280.3 682.3V740.7M282.9 705.9V723.6M285.5 688.6V738.7M288.1 717.1V745.2M290.7 714.5V744.8M293.3 735.1V757.0M295.9 698.6V765.4M298.5 716.2V768.4M301.1 727.6V760.3M303.7 717.8V756.1M306.3 737.1V820.3M308.9 739.6V767.9M311.5 727.2V767.6M314.1 737.5V775.0M316.7 730.1V763.2M319.3 741.7V774.3M321.9 755.9V785.9M324.5 750.5V785.9M327.1 750.8V776.0M329.7 739.5V769.6M332.3 737.6V792.7M334.9 732.0V793.8M337.5 757.8V795.9M340.1 749.2V765.7M342.7 740.0V764.0M345.3 735.8V766.6M347.9 740.9V777.0M350.5 727.4V778.3M353.1 734.4V784.2M355.7 742.5V768.7M358.3 729.4V772.9M360.9 735.5V777.5M363.5 730.6V767.5M366.1 717.5V774.4M368.7 743.4V767.4M371.3 745.9V781.0M373.9 729.6V758.9M376.5 736.0V801.7M379.1 736.3V768.5M381.7 743.0V774.9M384.3 742.7V761.4M386.9 741.0V771.2M389.5 724.3V759.4M392.1 734.0V786.3M394.7 733.3V758.2M397.3 725.4V760.8M399.9 725.7V770.1M402.5 706.4V761.0M405.1 723.7V758.4M407.7 727.3V754.1M410.3 722.8V774.1M412.9 725.3V757.7M415.5 727.6V750.0M418.1 731.3V765.3M420.7 688.0V749.5M423.3 710.5V746.0M425.9 713.9V739.0M428.5 709.3V748.0M431.1 711.1V737.9M433.7 711.4V752.1M436.3 703.9V757.5M438.9 707.6V737.0M441.5 699.9V740.2M444.1 697.6V756.4M446.7 725.1V754.7M449.3 699.9V745.0M451.9 704.4V762.0M454.5 700.1V736.8M457.1 697.4V741.6M459.7 696.5V742.2M462.3 700.8V742.1M464.9 712.9V742.6M467.5 702.4V737.0M470.1 691.3V737.8M472.7 705.8V740.6M475.3 701.5V743.1M477.9 712.1V752.3M480.5 715.4V740.0M483.1 702.6V732.0M485.7 702.8V739.2M488.3 698.5V759.8M490.9 697.6V731.1M493.5 715.3V740.8M496.1 710.9V752.0M498.7 708.3V744.2M501.3 719.1V734.9M503.9 718.3V742.6M506.5 715.7V739.5M509.1 707.8V754.2M511.7 700.5V760.1M514.3 708.5V761.7M516.9 717.1V743.9M519.5 724.8V764.2M522.1 700.8V739.9M524.7 714.0V743.8M527.3 720.4V759.6M529.9 725.6V769.7M532.5 716.7V759.8M535.1 725.9V761.6M537.7 739.4V765.9M540.3 726.4V758.2M542.9 716.6V777.1M545.5 741.8V777.5M548.1 745.7V774.6M550.7 749.5V782.5M553.3 742.9V788.1M555.9 758.0V793.1M558.5 748.2V788.8M561.1 757.4V783.9M563.7 770.6V790.2M566.3 751.5V802.6M568.9 756.1V802.0M571.5 756.7V789.3M574.1 768.2V818.0M576.7 766.5V804.0M579.3 781.7V801.1M581.9 790.4V821.2M584.5 776.6V808.3M587.1 781.3V802.0M589.7 775.0V818.3M592.3 787.5V826.7M594.9 795.2V816.5M597.5 797.6V823.8M600.1 801.6V831.4M602.7 800.7V828.8M605.3 777.2V821.8M607.9 808.2V828.2M610.5 811.1V832.0M613.1 795.5V822.7M615.7 808.0V857.9M618.3 807.9V853.0M620.9 813.2V840.3M623.5 805.6V837.9M626.1 814.5V846.1M628.7 800.0V847.9M631.3 814.6V850.6M633.9 825.4V866.7M636.5 825.8V849.8M639.1 831.3V853.1M641.7 821.6V851.9M644.3 814.4V865.3M646.9 815.2V842.5M649.5 831.7V846.2M652.1 816.4V856.1M654.7 823.3V849.2M657.3 818.4V863.4M659.9 819.9V846.5M662.5 811.2V867.4M665.1 834.6V865.7M667.7 819.6V858.3M670.3 851.2V875.4M672.9 848.0V870.0M675.5 846.2V868.2M678.1 846.1V876.3M680.7 850.4V867.0M683.3 850.2V880.0M685.9 843.2V882.6M688.5 850.8V867.7M691.1 854.7V869.6M693.7 849.5V884.7M696.3 860.8V899.8M698.9 850.9V873.5M701.5 848.4V892.6M704.1 858.5V895.6M706.7 855.0V898.3M709.3 863.8V897.2M711.9 863.8V886.6M714.5 865.1V895.8M717.1 863.8V896.5M719.7 871.7V889.5M722.3 839.6V889.7M724.9 837.4V893.2M727.5 865.5V885.8M730.1 862.9V896.6M732.7 869.5V889.0M735.3 864.7V895.2M737.9 870.3V900.9M740.5 881.5V903.9M743.1 875.1V894.3M745.7 873.4V903.0M748.3 867.9V911.4M750.9 870.6V908.5M753.5 887.9V916.2M756.1 881.6V916.2M758.7 877.2V915.5M761.3 883.4V924.8M763.9 893.0V924.5M766.5 892.5V916.9M769.1 895.7V929.0M771.7 900.0V935.4M774.3 905.0V934.1M776.9 905.3V927.4M779.5 901.1V929.9M782.1 911.0V932.3M784.7 889.6V929.3M787.3 902.5V943.7M789.9 907.2V940.0M792.5 899.4V925.5M795.1 918.5V944.0M797.7 909.5V938.2M800.3 909.4V935.1M802.9 902.8V937.9M805.5 893.6V947.0M808.1 914.3V937.0M810.7 920.1V950.6M813.3 921.6V942.6M815.9 918.2V955.0M818.5 922.6V948.4M821.1 914.6V947.7M823.7 920.6V952.2M826.3 915.6V947.3M828.9 922.5V953.9M831.5 909.2V943.9M834.1 918.7V951.0M836.7 920.6V945.4M839.3 935.0V962.5M841.9 936.0V981.4M844.5 926.7V961.8M847.1 925.7V970.8M849.7 943.0V973.4M852.3 940.8V981.6M854.9 957.3V976.4M857.5 946.0V968.8M860.1 951.7V972.1M862.7 948.3V979.2M865.3 954.5V980.6M867.9 951.6V980.7M870.5 951.0V984.5M873.1 946.4V985.7M875.7 957.0V975.9M878.3 949.0V980.3M880.9 948.5V994.0M883.5 960.4V985.3M886.1 953.0V993.2M888.7 965.2V989.4M891.3 967.9V1005.6M893.9 958.3V1001.2M896.5 949.8V979.2M899.1 935.8V987.9M901.7 938.1V986.2M904.3 968.2V994.1M906.9 956.9V981.3M909.5 969.2V994.6M912.1 956.9V992.7M914.7 964.4V991.2M917.3 960.8V996.3M919.9 969.1V987.0M922.5 975.7V987.3M925.1 959.5V1014.4M927.7 962.5V1011.9M930.3 964.3V1002.1M932.9 984.3V999.8M935.5 972.1V1000.4M938.1 972.3V1000.5M940.7 981.5V999.9M943.3 982.8V995.3M945.9 972.8V993.7M948.5 964.9V1003.2M951.1 960.8V1005.1M953.7 982.7V1003.3M956.3 978.9V994.0M958.9 975.0V998.1M961.5 975.9V1003.6M964.1 983.0V997.7M966.7 976.9V1010.4M969.3 974.4V1029.4M971.9 973.7V1004.3M974.5 992.3V1003.7M977.1 967.2V1002.1M979.7 977.0V1017.2M982.3 974.1V997.6M984.9 984.0V1010.1M987.5 981.8V1010.9M990.1 985.1V1006.7M992.7 991.3V1013.8M995.3 993.8V1019.7M997.9 992.0V1013.5M1000.5 997.0V1010.0M1003.1 987.7V1009.1M1005.7 974.4V1018.5M1008.3 988.8V1012.8M1010.9 992.1V1021.5M1013.5 982.5V1003.9M1016.1 993.1V1023.0M1018.7 994.9V1026.8M1021.3 997.1V1011.9M1023.9 995.7V1014.1M1026.5 995.8V1011.0M1029.1 1002.5V1014.0M1031.7 996.5V1020.2M1034.3 996.0V1021.6M1036.9 988.6V1019.7M1039.5 1010.0V1023.2M1042.1 1000.3V1033.0M1044.7 1002.6V1028.4M1047.3 997.4V1027.5M1049.9 994.6V1023.3M1052.5 998.1V1015.2M1055.1 989.5V1016.8M1057.7 997.6V1021.2M1060.3 1008.7V1024.4M1062.9 1002.8V1014.2M1065.5 999.4V1034.2M1068.1 987.2V1018.7M1070.7 1003.6V1022.9M1073.3 1004.4V1024.2M1075.9 1001.9V1025.0M1078.5 1005.2V1022.0M1081.1 993.4V1031.8M1083.7 1008.7V1028.6M1086.3 997.2V1021.6M1088.9 1004.1V1027.2M1091.5 1012.0V1035.7M1094.1 1003.1V1027.7M1096.7 1011.6V1035.9M1099.3 1004.0V1038.0M1101.9 1002.7V1034.8M1104.5 998.5V1028.2M1107.1 1009.2V1029.3M1109.7 1015.5V1032.2M1112.3 1016.4V1043.9M1114.9 1012.6V1035.0M1117.5 1013.8V1028.6M1120.1 1003.2V1029.1M1122.7 998.4V1028.5M1125.3 1010.9V1030.1M1127.9 1015.5V1033.2M1130.5 1017.5V1031.6M1133.1 1013.5V1036.1M1135.7 1005.2V1035.4M1138.3 1008.4V1046.8M1140.9 1018.3V1044.7M1143.5 1009.7V1042.7M1146.1 1014.1V1050.9M1148.7 1017.0V1043.7M1151.3 1018.1V1035.9M1153.9 1025.4V1044.9M1156.5 1010.0V1062.7M1159.1 1022.9V1041.4M1161.7 1025.9V1048.3M1164.3 1021.2V1045.5M1166.9 1030.0V1049.1M1169.5 1010.9V1033.8M1172.1 1017.6V1049.7M1174.7 1026.3V1048.1M1177.3 1022.2V1041.0M1179.9 1016.3V1040.6M1182.5 1016.2V1041.4M1185.1 1019.4V1061.2M1187.7 1025.1V1044.9M1190.3 1021.9V1042.0M1192.9 1023.4V1052.9M1195.5 1023.4V1046.0M1198.1 1009.8V1048.4M1200.7 1015.5V1042.3M1203.3 1025.3V1043.0M1205.9 1023.4V1051.1M1208.5 1023.3V1053.7M1211.1 1021.8V1045.5M1213.7 1031.5V1043.1M1216.3 1027.5V1044.5M1218.9 1025.4V1048.0M1221.5 1037.6V1047.9M1224.1 1016.3V1044.7M1226.7 1026.2V1053.8M1229.3 1015.7V1050.4M1231.9 1029.3V1046.6M1234.5 1018.8V1050.2M1237.1 1036.5V1050.6M1239.7 1036.6V1060.9M1242.3 1024.1V1046.8M1244.9 1021.2V1054.4M1247.5 1028.1V1048.9M1250.1 1031.6V1048.9M1252.7 1035.3V1056.2M1255.3 1030.4V1049.5M1257.9 1024.0V1056.8M1260.5 1025.1V1056.5M1263.1 1023.5V1053.6M1265.7 1036.5V1059.1M1268.3 1036.0V1054.3M1270.9 1034.6V1057.7M1273.5 1037.8V1071.2M1276.1 1029.8V1056.6M1278.7 1042.8V1055.3M1281.3 1040.1V1057.1M1283.9 1041.7V1053.6M1286.5 1033.3V1058.4M1289.1 1043.5V1054.5M1291.7 1034.5V1064.3M1294.3 1034.8V1058.8M1296.9 1045.5V1060.2M1299.5 1028.7V1056.6M1302.1 1027.9V1062.3M1304.7 1043.1V1064.7M1307.3 1036.8V1052.7M1309.9 1042.6V1060.9M1312.5 1036.1V1056.3M1315.1 1026.2V1056.1M1317.7 1044.3V1068.7M1320.3 1044.6V1076.0M1322.9 1030.7V1069.8M1325.5 1044.2V1062.3M1328.1 1037.6V1066.8M1330.7 1041.3V1057.0M1333.3 1039.3V1058.6M1335.9 1042.4V1065.2M1338.5 1044.6V1066.2M1341.1 1033.0V1065.9M1343.7 1033.1V1053.5M1346.3 1039.6V1062.0M1348.9 1042.1V1065.8M1351.5 1039.0V1073.8M1354.1 1037.2V1070.5M1356.7 1042.2V1071.4M1359.3 1044.9V1060.1M1361.9 1039.9V1067.6M1364.5 1040.5V1068.6M1367.1 1050.7V1067.2M1369.7 1033.3V1075.6M1372.3 1047.9V1074.7M1374.9 1041.1V1058.7M1377.5 1048.0V1072.0M1380.1 1039.5V1065.9M1382.7 1040.4V1063.7M1385.3 1042.3V1059.7M1387.9 1041.0V1066.9M1390.5 1034.6V1068.8M1393.1 1050.0V1067.1M1395.7 1041.8V1065.2M1398.3 1042.6V1072.9M1400.9 1040.9V1064.1M1403.5 1040.9V1060.5M1406.1 1045.5V1065.3M1408.7 1047.2V1074.9M1411.3 1043.2V1066.0M1413.9 1042.5V1079.4M1416.5 1047.0V1067.2M1419.1 1050.7V1073.4M1421.7 1055.0V1073.9M1424.3 1045.2V1071.6M1426.9 1055.1V1079.5M1429.5 1054.9V1065.3M1432.1 1059.9V1073.2M1434.7 1046.8V1071.8M1437.3 1058.5V1073.7M1439.9 1047.5V1079.1M1442.5 1053.5V1082.6M1445.1 1057.2V1082.2M1447.7 1048.6V1086.4M1450.3 1048.5V1083.8M1452.9 1051.7V1075.1M1455.5 1051.4V1073.5M1458.1 1050.8V1076.2M1460.7 1047.5V1069.2M1463.3 1057.8V1073.4M1465.9 1059.6V1077.2M1468.5 1055.7V1075.0M1471.1 1057.5V1072.7M1473.7 1058.5V1077.7M1476.3 1055.3V1071.3M1478.9 1052.2V1083.0M1481.5 1050.1V1072.7M1484.1 1058.2V1077.8M1486.7 1053.8V1086.5M1489.3 1046.2V1069.0M1491.9 1061.3V1078.5M1494.5 1055.1V1072.5M1497.1 1045.6V1079.6M1499.7 1053.7V1068.3M1502.3 1050.4V1082.2M1504.9 1057.7V1075.4M1507.5 1060.5V1088.8M1510.1 1061.6V1089.0M1512.7 1055.2V1073.7M1515.3 1058.1V1083.4M1517.9 1060.6V1073.2M1520.5 1058.6V1078.1M1523.1 1062.7V1084.9M1525.7 1054.0V1085.0M1528.3 1047.2V1082.5M1530.9 1054.5V1079.6M1533.5 1052.6V1078.5M1536.1 1050.9V1082.1M1538.7 1057.2V1081.6M1541.3 1052.7V1083.0M1543.9 1062.9V1084.8M1546.5 1060.5V1075.3M1549.1 1061.2V1073.4M1551.7 1047.9V1080.6M1554.3 1061.0V1086.3M1556.9 1047.1V1081.7M1559.5 1054.1V1086.7M1562.1 1059.8V1077.0M1564.7 1059.0V1086.0M1567.3 1056.1V1080.5M1569.9 1055.8V1075.2M1572.5 1058.0V1075.5M1575.1 1063.6V1081.1M1577.7 1064.9V1079.5M1580.3 1058.8V1086.2M1582.9 1055.8V1080.1M1585.5 1063.7V1090.0M1588.1 1065.5V1087.9M1590.7 1064.4V1082.8M1593.3 1063.6V1079.5M1595.9 1062.2V1080.9M1598.5 1056.2V1072.3M1601.1 1052.5V1073.3M1603.7 1058.8V1078.7M1606.3 1057.5V1074.6M1608.9 1058.6V1087.1M1611.5 1059.5V1085.2M1614.1 1063.8V1075.7M1616.7 1060.3V1078.6M1619.3 1058.4V1076.5M1621.9 1061.3V1080.7M1624.5 1064.2V1083.1M1627.1 1060.3V1078.9M1629.7 1054.2V1065.0M1632.3 1061.1V1081.0M1634.9 1062.0V1080.6M1637.5 1055.8V1084.0M1640.1 1068.5V1081.7M1642.7 1058.3V1083.8M1645.3 1059.3V1080.6M1647.9 1066.8V1082.4M1650.5 1062.8V1082.7M1653.1 1060.7V1078.5M1655.7 1054.2V1079.8M1658.3 1062.8V1085.3M1660.9 1059.6V1083.4M1663.5 1058.8V1086.2M1666.1 1064.6V1085.8M1668.7 1067.3V1090.4M1671.3 1066.6V1082.8M1673.9 1069.2V1085.1M1676.5 1068.5V1087.8M1679.1 1066.8V1086.7M1681.7 1061.1V1087.3M1684.3 1066.7V1084.7M1686.9 1062.1V1087.8M1689.5 1068.0V1083.6M1692.1 1071.1V1085.3M1694.7 1062.6V1086.1M1697.3 1064.9V1097.7M1699.9 1054.6V1087.3M1702.5 1054.6V1082.4M1705.1 1067.1V1081.2M1707.7 1061.3V1083.1M1710.3 1067.8V1086.4M1712.9 1061.0V1084.3M1715.5 1070.4V1081.7M1718.1 1069.5V1091.4M1720.7 1073.1V1085.4M1723.3 1068.4V1090.6M1725.9 1069.7V1089.0M1728.5 1068.6V1083.8M1731.1 1059.4V1093.6M1733.7 1062.2V1093.9M1736.3 1069.0V1087.6M1738.9 1064.1V1086.6M1741.5 1063.7V1096.5M1744.1 1068.8V1090.3M1746.7 1072.5V1107.0M1749.3 1066.5V1084.0M1751.9 1073.3V1087.6M1754.5 1076.1V1094.4M1757.1 1063.8V1094.7M1759.7 1068.5V1091.7M1762.3 1063.2V1095.8M1764.9 1070.8V1101.9M1767.5 1067.6V1087.6M1770.1 1081.4V1095.1M1772.7 1073.5V1095.3M1775.3 1063.3V1086.7M1777.9 1067.6V1105.2M1780.5 1073.2V1101.6M1783.1 1072.4V1096.2M1785.7 1075.1V1090.5M1788.3 1069.7V1096.7M1790.9 1067.5V1094.4M1793.5 1076.9V1087.6M1796.1 1070.7V1102.5M1798.7 1062.7V1089.0M1801.3 1079.3V1103.1M1803.9 1063.2V1101.6M1806.5 1080.5V1097.5M1809.1 1075.9V1094.4M1811.7 1078.5V1090.0M1814.3 1072.8V1091.1M1816.9 1076.5V1097.7M1819.5 1071.6V1106.3M1822.1 1082.7V1100.0M1824.7 1073.4V1098.1M1827.3 1076.9V1092.5M1829.9 1076.4V1098.4M1832.5 1080.8V1093.8M1835.1 1065.5V1097.0M1837.7 1067.0V1093.0M1840.3 1081.2V1097.9M1842.9 1070.9V1108.2M1845.5 1078.4V1095.0M1848.1 1079.9V1089.3M1850.7 1081.4V1098.4M1853.3 1066.5V1107.7M1855.9 1060.4V1093.9M1858.5 1075.1V1102.1M1861.1 1085.4V1098.6M1863.7 1083.8V1094.3M1866.3 1075.4V1095.0M1868.9 1081.0V1095.3M1871.5 1078.3V1096.1M1874.1 1077.1V1099.3M1876.7 1077.5V1096.7M1879.3 1078.6V1093.9M1881.9 1071.7V1104.3M1884.5 1068.0V1095.6M1887.1 1073.2V1105.2M1889.7 1074.2V1103.6M1892.3 1076.1V1100.5M1894.9 1071.3V1100.0M1897.5 1070.4V1088.6M1900.1 1068.8V1091.7M1902.7 1067.6V1097.9M1905.3 1081.9V1100.2M1907.9 1074.5V1101.3M1910.5 1076.3V1100.6M1913.1 1077.0V1099.1M1915.7 1080.8V1112.4M1918.3 1079.2V1107.3M1920.9 1078.5V1105.3M1923.5 1070.9V1106.9M1926.1 1078.7V1105.5M1928.7 1075.9V1102.5M1931.3 1085.1V1105.6M1933.9 1078.1V1107.9M1936.5 1081.5V1101.4M1939.1 1086.8V1105.0M1941.7 1086.9V1106.2M1944.3 1083.7V1099.3M1946.9 1084.6V1102.4M1949.5 1080.3V1106.0M1952.1 1081.7V1098.8M1954.7 1089.6V1110.0M1957.3 1076.1V1108.5M1959.9 1085.6V1110.4M1962.5 1087.7V1106.6M1965.1 1078.4V1103.2M1967.7 1091.8V1107.2M1970.3 1083.1V1095.3M1972.9 1076.0V1103.9M1975.5 1085.8V1111.1M1978.1 1091.2V1111.1M1980.7 1087.5V1110.3M1983.3 1077.9V1102.8M1985.9 1088.0V1107.6M1988.5 1084.2V1103.3M1991.1 1086.7V1103.8M1993.7 1082.9V1104.7M1996.3 1089.7V1116.1M1998.9 1094.1V1111.8M2001.5 1081.9V1101.0M2004.1 1090.1V1109.7M2006.7 1089.7V1119.9M2009.3 1086.6V1103.9M2011.9 1079.0V1107.0M2014.5 1086.4V1111.0M2017.1 1088.7V1106.3M2019.7 1084.6V1105.0M2022.3 1089.8V1118.8M2024.9 1090.9V1117.0M2027.5 1082.5V1106.0M2030.1 1088.9V1109.1M2032.7 1083.8V1108.8M2035.3 1091.2V1114.3M2037.9 1088.1V1108.2M2040.5 1089.6V1103.7M2043.1 1089.9V1105.2M2045.7 1086.3V1108.8M2048.3 1090.7V1112.2M2049.9 1085.8V1105.8" stroke="#ff0000"/>
<path d="M186.7 746.1V786.9M189.3 733.7V783.3M191.9 742.6V789.1M194.5 756.8V801.7M197.1 751.3V795.8M199.7 733.2V799.2M202.3 757.9V798.1M204.9 761.9V783.1M207.5 741.7V790.1M210.1 747.6V800.6M212.7 746.1V784.4M215.3 740.9V798.8M217.9 763.8V810.7M220.5 754.2V796.3M223.1 766.4V822.6M225.7 778.4V817.2M228.3 783.4V816.3M230.9 774.7V797.3M233.5 790.0V827.4M236.1 788.0V818.1M238.7 775.3V818.1M241.3 803.5V828.9M243.9 794.2V842.4M246.5 800.5V842.6M249.1 817.6V845.6M251.7 808.7V844.0M254.3 807.2V848.4M256.9 819.9V845.4M259.5 820.9V852.8M262.1 816.1V843.6M264.7 811.2V867.7M267.3 831.6V860.1M269.9 836.2V869.4M272.5 827.8V864.8M275.1 831.9V863.2M277.7 830.7V846.8M280.3 837.5V859.0M282.9 819.7V865.1M285.5 844.2V882.7M288.1 842.1V885.8M290.7 842.0V866.7M293.3 834.9V871.7M295.9 832.9V897.1M298.5 856.5V914.5M301.1 857.1V893.6M303.7 849.1V889.0M306.3 855.8V884.9M308.9 849.7V900.0M311.5 854.1V913.5M314.1 872.2V905.6M316.7 860.5V887.5M319.3 866.5V906.9M321.9 862.4V902.9M324.5 872.2V906.3M327.1 861.8V890.8M329.7 863.6V907.3M332.3 883.1V917.0M334.9 868.1V903.8M337.5 868.6V910.4M340.1 868.7V895.4M342.7 839.1V893.8M345.3 858.7V895.9M347.9 876.5V897.0M350.5 854.4V907.6M353.1 871.9V886.8M355.7 865.4V892.8M358.3 864.3V907.4M360.9 859.6V907.6M363.5 877.9V912.1M366.1 873.4V930.7M368.7 855.5V897.4M371.3 860.2V899.1M373.9 863.3V906.9M376.5 846.3V904.2M379.1 855.3V920.7M381.7 879.6V896.6M384.3 865.3V895.0M386.9 871.2V899.1M389.5 867.7V898.4M392.1 863.0V903.6M394.7 848.4V890.2M397.3 858.3V915.3M399.9 863.0V902.3M402.5 864.8V907.3M405.1 850.7V889.8M407.7 851.4V881.4M410.3 862.0V891.8M412.9 856.0V899.5M415.5 856.8V888.0M418.1 847.1V883.9M420.7 859.0V908.0M423.3 857.5V888.9M425.9 835.3V881.8M428.5 845.2V890.7M431.1 850.9V889.6M433.7 852.8V879.4M436.3 857.6V879.8M438.9 848.0V878.9M441.5 834.1V882.9M444.1 844.3V873.7M446.7 854.7V890.6M449.3 853.8V869.8M451.9 835.8V885.5M454.5 844.6V883.7M457.1 839.5V879.8M459.7 836.5V873.0M462.3 845.0V877.7M464.9 849.7V873.7M467.5 857.7V889.1M470.1 842.5V883.9M472.7 840.1V874.0M475.3 849.9V868.5M477.9 845.4V876.4M480.5 840.4V879.1M483.1 848.4V885.9M485.7 842.3V887.7M488.3 843.9V888.1M490.9 841.1V878.3M493.5 851.3V899.1M496.1 835.5V890.5M498.7 839.2V877.0M501.3 818.4V882.6M503.9 853.6V892.1M506.5 835.6V875.5M509.1 847.3V893.4M511.7 851.9V889.4M514.3 847.1V888.7M516.9 831.7V880.6M519.5 862.5V885.9M522.1 876.7V897.6M524.7 848.1V889.5M527.3 852.5V888.3M529.9 857.3V916.4M532.5 866.7V895.1M535.1 869.4V891.7M537.7 868.4V892.2M540.3 860.9V907.5M542.9 878.0V906.5M545.5 876.1V913.3M548.1 852.7V903.9M550.7 867.2V905.1M553.3 866.1V895.1M555.9 879.5V910.7M558.5 885.7V913.2M561.1 868.2V910.8M563.7 864.6V916.6M566.3 874.9V912.6M568.9 883.6V917.8M571.5 889.7V908.6M574.1 875.7V930.9M576.7 881.7V919.6M579.3 882.0V914.5M581.9 884.2V903.7M584.5 883.7V914.0M587.1 884.5V905.8M589.7 888.1V907.9M592.3 875.3V904.6M594.9 885.1V920.2M597.5 882.9V918.1M600.1 874.1V922.7M602.7 889.0V916.0M605.3 886.8V925.6M607.9 890.1V927.4M610.5 909.6V919.0M613.1 899.5V928.1M615.7 887.2V920.3M618.3 895.3V927.5M620.9 899.3V918.1M623.5 905.4V939.8M626.1 905.7V932.5M628.7 909.5V937.6M631.3 908.6V941.4M633.9 887.5V940.9M636.5 920.8V950.2M639.1 912.4V940.2M641.7 901.3V923.4M644.3 911.3V946.8M646.9 915.1V939.1M649.5 915.1V939.0M652.1 916.6V946.4M654.7 912.8V950.4M657.3 912.8V952.9M659.9 935.2V953.9M662.5 929.4V947.9M665.1 934.6V956.8M667.7 916.4V955.8M670.3 927.3V957.9M672.9 936.0V947.0M675.5 934.3V954.0M678.1 939.1V952.8M680.7 932.5V953.6M683.3 930.2V959.5M685.9 932.9V954.8M688.5 944.5V970.1M691.1 946.7V964.4M693.7 942.7V974.3M696.3 945.9V958.2M698.9 941.6V970.8M701.5 943.3V970.8M704.1 949.4V968.4M706.7 929.9V976.7M709.3 932.7V971.2M711.9 951.0V974.7M714.5 951.7V980.7M717.1 961.3V1000.9M719.7 944.5V993.4M722.3 958.5V987.7M724.9 961.5V995.4M727.5 965.8V995.9M730.1 971.5V1000.0M732.7 958.3V1005.2M735.3 954.8V999.4M737.9 958.3V1006.5M740.5 969.1V999.2M743.1 988.6V1006.5M745.7 965.3V999.2M748.3 975.2V1022.1M750.9 973.3V1014.0M753.5 998.0V1013.6M756.1 986.7V1024.1M758.7 991.7V1020.3M761.3 988.0V1029.5M763.9 994.5V1012.1M766.5 988.2V1010.4M769.1 991.4V1015.1M771.7 990.8V1011.9M774.3 998.8V1024.4M776.9 991.1V1023.9M779.5 995.4V1019.0M782.1 994.0V1026.2M784.7 986.1V1012.0M787.3 995.8V1018.0M789.9 999.5V1021.3M792.5 1003.3V1014.5M795.1 986.1V1020.3M797.7 999.7V1026.5M800.3 1002.3V1036.4M802.9 998.9V1027.2M805.5 998.6V1031.8M808.1 1007.8V1030.1M810.7 1008.3V1041.3M813.3 1006.1V1036.2M815.9 1010.7V1030.4M818.5 1009.3V1036.2M821.1 1008.1V1050.6M823.7 1022.1V1051.9M826.3 1021.2V1034.8M828.9 1017.8V1047.8M831.5 1024.1V1044.6M834.1 1018.7V1042.0M836.7 997.3V1050.7M839.3 1019.0V1038.6M841.9 1025.5V1041.7M844.5 1018.5V1055.8M847.1 1017.7V1051.1M849.7 1021.0V1054.7M852.3 1034.4V1058.9M854.9 1032.9V1068.6M857.5 1034.7V1054.6M860.1 1034.3V1053.2M862.7 1032.6V1062.9M865.3 1032.4V1067.0M867.9 1033.9V1060.5M870.5 1034.7V1058.0M873.1 1037.0V1061.6M875.7 1033.9V1083.8M878.3 1030.9V1065.3M880.9 1031.7V1062.6M883.5 1051.0V1064.7M886.1 1049.5V1077.0M888.7 1042.8V1072.8M891.3 1052.0V1075.9M893.9 1055.8V1078.1M896.5 1056.9V1074.9M899.1 1057.5V1091.7M901.7 1049.4V1090.8M904.3 1057.4V1084.3M906.9 1049.1V1085.1M909.5 1053.7V1071.3M912.1 1058.7V1085.3M914.7 1064.4V1084.1M917.3 1064.2V1092.5M919.9 1049.7V1074.2M922.5 1061.7V1081.9M925.1 1055.8V1080.5M927.7 1061.8V1090.6M930.3 1057.7V1085.1M932.9 1066.7V1089.3M935.5 1073.7V1083.1M938.1 1069.0V1084.5M940.7 1061.3V1098.1M943.3 1062.3V1092.4M945.9 1068.1V1085.9M948.5 1061.3V1090.6M951.1 1069.2V1088.3M953.7 1073.6V1090.7M956.3 1066.6V1092.0M958.9 1064.9V1083.4M961.5 1070.0V1098.7M964.1 1070.3V1087.7M966.7 1067.1V1099.6M969.3 1071.1V1105.8M971.9 1072.0V1093.5M974.5 1059.9V1096.9M977.1 1069.9V1086.2M979.7 1076.6V1110.9M982.3 1080.5V1103.0M984.9 1069.4V1097.8M987.5 1076.7V1099.3M990.1 1076.0V1102.9M992.7 1070.7V1102.8M995.3 1071.9V1099.2M997.9 1069.1V1102.6M1000.5 1079.6V1104.8M1003.1 1084.7V1111.1M1005.7 1079.7V1106.1M1008.3 1093.5V1105.7M1010.9 1073.1V1112.5M1013.5 1083.6V1112.5M1016.1 1072.9V1102.7M1018.7 1082.4V1096.7M1021.3 1080.5V1101.5M1023.9 1082.9V1110.3M1026.5 1084.3V1099.2M1029.1 1089.7V1104.0M1031.7 1079.5V1100.1M1034.3 1080.1V1113.0M1036.9 1081.1V1113.6M1039.5 1085.5V1103.2M1042.1 1085.9V1103.2M1044.7 1078.0V1110.9M1047.3 1077.0V1112.1M1049.9 1088.9V1108.5M1052.5 1088.0V1104.2M1055.1 1082.6V1102.0M1057.7 1088.7V1120.8M1060.3 1092.2V1108.4M1062.9 1092.7V1107.0M1065.5 1088.3V1109.3M1068.1 1087.2V1108.6M1070.7 1085.6V1104.0M1073.3 1086.1V1105.3M1075.9 1080.7V1110.2M1078.5 1089.7V1105.8M1081.1 1088.8V1103.8M1083.7 1087.9V1099.4M1086.3 1076.7V1104.1M1088.9 1089.2V1114.8M1091.5 1095.4V1111.1M1094.1 1087.7V1114.2M1096.7 1091.2V1114.1M1099.3 1084.4V1108.2M1101.9 1096.1V1114.1M1104.5 1090.1V1115.7M1107.1 1089.7V1109.5M1109.7 1093.6V1115.3M1112.3 1081.6V1120.3M1114.9 1095.1V1115.0M1117.5 1099.9V1114.2M1120.1 1097.9V1113.1M1122.7 1090.3V1125.9M1125.3 1097.6V1121.6M1127.9 1098.8V1116.0M1130.5 1093.9V1113.7M1133.1 1098.7V1108.9M1135.7 1100.5V1113.5M1138.3 1083.6V1109.8M1140.9 1096.7V1121.0M1143.5 1092.8V1123.5M1146.1 1089.1V1125.0M1148.7 1092.8V1126.5M1151.3 1092.8V1116.8M1153.9 1101.7V1121.6M1156.5 1103.5V1121.3M1159.1 1096.0V1127.2M1161.7 1105.8V1119.4M1164.3 1101.9V1121.6M1166.9 1096.7V1128.9M1169.5 1100.5V1130.4M1172.1 1112.7V1136.7M1174.7 1105.1V1132.3M1177.3 1108.0V1131.2M1179.9 1096.4V1138.6M1182.5 1119.5V1132.0M1185.1 1107.6V1127.7M1187.7 1114.2V1124.2M1190.3 1105.5V1146.4M1192.9 1108.8V1135.3M1195.5 1114.6V1129.2M1198.1 1112.5V1125.8M1200.7 1111.8V1120.5M1203.3 1114.8V1133.0M1205.9 1107.5V1132.9M1208.5 1108.5V1134.8M1211.1 1111.0V1130.9M1213.7 1109.6V1132.2M1216.3 1111.4V1131.3M1218.9 1118.2V1143.5M1221.5 1107.2V1133.4M1224.1 1115.6V1137.0M1226.7 1122.4V1147.9M1229.3 1109.4V1139.9M1231.9 1115.2V1139.4M1234.5 1116.1V1140.2M1237.1 1106.6V1134.5M1239.7 1118.1V1134.5M1242.3 1107.5V1135.9M1244.9 1104.5V1140.5M1247.5 1114.7V1140.3M1250.1 1116.5V1140.2M1252.7 1120.7V1140.2M1255.3 1113.7V1127.4M1257.9 1113.4V1137.8M1260.5 1113.4V1132.1M1263.1 1115.2V1134.8M1265.7 1119.5V1133.7M1268.3 1119.1V1133.8M1270.9 1125.2V1147.6M1273.5 1118.5V1138.9M1276.1 1118.0V1137.3M1278.7 1117.8V1139.7M1281.3 1113.1V1157.5M1283.9 1116.2V1134.0M1286.5 1110.0V1141.1M1289.1 1117.7V1143.7M1291.7 1119.8V1143.1M1294.3 1116.2V1146.0M1296.9 1112.5V1129.5M1299.5 1120.1V1150.0M1302.1 1123.7V1137.7M1304.7 1121.2V1147.4M1307.3 1123.7V1140.9M1309.9 1116.7V1151.3M1312.5 1107.2V1136.3M1315.1 1116.7V1147.5M1317.7 1110.0V1141.7M1320.3 1130.1V1146.6M1322.9 1122.5V1144.6M1325.5 1128.2V1150.2M1328.1 1117.8V1150.6M1330.7 1124.1V1150.8M1333.3 1126.0V1154.0M1335.9 1133.6V1152.3M1338.5 1135.5V1150.2M1341.1 1132.5V1147.9M1343.7 1125.7V1142.6M1346.3 1123.0V1143.7M1348.9 1121.0V1147.3M1351.5 1131.7V1153.8M1354.1 1128.8V1151.6M1356.7 1127.2V1147.4M1359.3 1125.9V1149.0M1361.9 1119.6V1158.1M1364.5 1113.9V1154.7M1367.1 1114.9V1142.1M1369.7 1130.2V1148.5M1372.3 1128.4V1146.7M1374.9 1124.5V1145.1M1377.5 1126.8V1147.4M1380.1 1126.2V1149.9M1382.7 1126.3V1147.4M1385.3 1123.6V1148.2M1387.9 1123.5V1157.4M1390.5 1123.2V1150.3M1393.1 1126.3V1145.2M1395.7 1131.2V1162.8M1398.3 1129.6V1145.3M1400.9 1127.0V1159.8M1403.5 1132.1V1149.3M1406.1 1120.6V1142.4M1408.7 1124.5V1141.6M1411.3 1134.0V1144.6M1413.9 1125.2V1146.4M1416.5 1119.9V1141.5M1419.1 1124.8V1144.9M1421.7 1124.8V1160.9M1424.3 1127.8V1159.1M1426.9 1131.0V1143.5M1429.5 1125.1V1144.4M1432.1 1134.8V1145.7M1434.7 1133.0V1150.3M1437.3 1122.7V1151.6M1439.9 1115.8V1154.9M1442.5 1133.2V1154.8M1445.1 1137.5V1156.4M1447.7 1126.9V1152.5M1450.3 1127.2V1150.3M1452.9 1128.1V1152.5M1455.5 1132.9V1142.8M1458.1 1137.9V1159.8M1460.7 1134.4V1149.5M1463.3 1130.7V1145.5M1465.9 1137.8V1160.6M1468.5 1130.9V1157.0M1471.1 1133.5V1148.9M1473.7 1134.2V1163.3M1476.3 1135.7V1152.9M1478.9 1138.9V1156.6M1481.5 1141.1V1150.9M1484.1 1140.8V1162.2M1486.7 1143.6V1159.7M1489.3 1138.7V1160.8M1491.9 1134.2V1155.1M1494.5 1134.8V1157.2M1497.1 1134.7V1150.4M1499.7 1137.1V1151.7M1502.3 1141.9V1160.1M1504.9 1134.0V1154.7M1507.5 1128.7V1153.9M1510.1 1138.6V1164.5M1512.7 1131.4V1164.5M1515.3 1132.5V1160.2M1517.9 1134.0V1161.1M1520.5 1135.1V1161.7M1523.1 1126.6V1157.4M1525.7 1131.1V1151.5M1528.3 1128.4V1165.4M1530.9 1130.7V1161.3M1533.5 1127.9V1161.9M1536.1 1137.3V1159.2M1538.7 1136.1V1159.7M1541.3 1143.1V1158.9M1543.9 1141.7V1162.7M1546.5 1140.4V1165.0M1549.1 1141.0V1162.2M1551.7 1138.6V1157.3M1554.3 1148.1V1156.3M1556.9 1141.6V1165.6M1559.5 1139.7V1158.4M1562.1 1138.1V1156.9M1564.7 1138.1V1161.0M1567.3 1135.9V1163.6M1569.9 1145.2V1158.7M1572.5 1145.6V1154.6M1575.1 1142.1V1173.0M1577.7 1132.4V1158.3M1580.3 1139.9V1162.4M1582.9 1137.4V1158.4M1585.5 1143.3V1158.0M1588.1 1141.0V1158.3M1590.7 1138.1V1157.8M1593.3 1140.0V1160.8M1595.9 1146.7V1158.3M1598.5 1135.5V1155.3M1601.1 1142.3V1162.8M1603.7 1139.6V1157.2M1606.3 1147.8V1167.5M1608.9 1143.6V1165.3M1611.5 1144.8V1167.9M1614.1 1141.1V1163.9M1616.7 1143.3V1162.5M1619.3 1141.9V1158.7M1621.9 1144.1V1166.7M1624.5 1143.5V1166.6M1627.1 1140.4V1163.8M1629.7 1145.0V1160.3M1632.3 1137.7V1158.4M1634.9 1148.8V1162.6M1637.5 1142.5V1156.0M1640.1 1142.1V1164.9M1642.7 1145.7V1163.0M1645.3 1139.3V1162.2M1647.9 1145.3V1168.4M1650.5 1145.4V1163.6M1653.1 1148.8V1163.4M1655.7 1140.4V1163.0M1658.3 1143.2V1171.3M1660.9 1149.6V1167.3M1663.5 1149.0V1163.1M1666.1 1145.1V1165.2M1668.7 1141.0V1160.5M1671.3 1138.1V1167.2M1673.9 1138.5V1163.6M1676.5 1153.2V1172.9M1679.1 1144.3V1164.9M1681.7 1138.5V1169.8M1684.3 1150.0V1164.1M1686.9 1139.6V1168.8M1689.5 1152.9V1173.0M1692.1 1147.4V1173.2M1694.7 1151.4V1178.8M1697.3 1152.1V1175.9M1699.9 1151.4V1171.9M1702.5 1151.4V1168.5M1705.1 1155.5V1166.9M1707.7 1154.5V1166.7M1710.3 1155.0V1168.8M1712.9 1155.2V1172.7M1715.5 1147.9V1162.6M1718.1 1142.6V1175.7M1720.7 1161.3V1169.8M1723.3 1147.5V1166.8M1725.9 1156.7V1168.1M1728.5 1149.0V1173.3M1731.1 1148.1V1174.3M1733.7 1140.1V1166.7M1736.3 1146.6V1165.6M1738.9 1163.0V1173.7M1741.5 1151.2V1174.2M1744.1 1151.2V1165.7M1746.7 1151.4V1172.5M1749.3 1156.9V1174.2M1751.9 1145.1V1174.1M1754.5 1140.9V1165.0M1757.1 1141.2V1168.7M1759.7 1147.0V1169.7M1762.3 1143.1V1175.9M1764.9 1149.5V1178.7M1767.5 1154.3V1168.7M1770.1 1157.5V1172.3M1772.7 1157.9V1175.0M1775.3 1147.7V1163.9M1777.9 1155.4V1176.5M1780.5 1136.5V1177.1M1783.1 1151.4V1173.5M1785.7 1162.4V1168.7M1788.3 1155.2V1172.1M1790.9 1151.9V1177.9M1793.5 1153.1V1171.5M1796.1 1155.7V1180.2M1798.7 1141.2V1182.4M1801.3 1151.1V1179.6M1803.9 1152.7V1168.8M1806.5 1154.3V1191.2M1809.1 1152.5V1183.3M1811.7 1161.0V1183.1M1814.3 1156.5V1170.9M1816.9 1154.6V1183.7M1819.5 1153.9V1174.2M1822.1 1151.0V1180.6M1824.7 1157.8V1175.7M1827.3 1151.2V1179.3M1829.9 1151.1V1178.9M1832.5 1154.8V1178.8M1835.1 1151.0V1179.2M1837.7 1156.5V1179.7M1840.3 1147.2V1183.8M1842.9 1145.5V1176.4M1845.5 1160.9V1178.2M1848.1 1155.1V1171.8M1850.7 1161.5V1177.8M1853.3 1158.6V1171.0M1855.9 1155.7V1182.9M1858.5 1152.7V1175.7M1861.1 1156.2V1181.5M1863.7 1154.8V1178.6M1866.3 1159.2V1175.6M1868.9 1162.9V1180.0M1871.5 1150.4V1179.3M1874.1 1154.9V1182.0M1876.7 1156.8V1180.8M1879.3 1156.0V1179.3M1881.9 1163.4V1181.3M1884.5 1155.2V1177.3M1887.1 1152.2V1177.7M1889.7 1154.4V1170.8M1892.3 1159.2V1180.9M1894.9 1154.6V1174.8M1897.5 1162.7V1179.5M1900.1 1164.4V1186.0M1902.7 1155.6V1179.1M1905.3 1158.4V1177.3M1907.9 1154.1V1186.3M1910.5 1156.9V1180.1M1913.1 1161.1V1176.0M1915.7 1163.3V1179.8M1918.3 1162.2V1179.2M1920.9 1162.1V1186.7M1923.5 1160.5V1190.9M1926.1 1163.4V1184.8M1928.7 1158.8V1185.6M1931.3 1163.8V1180.5M1933.9 1165.7V1184.4M1936.5 1161.7V1181.0M1939.1 1161.3V1193.3M1941.7 1161.6V1184.5M1944.3 1160.9V1189.9M1946.9 1161.6V1181.8M1949.5 1170.9V1191.1M1952.1 1173.8V1191.8M1954.7 1172.3V1189.6M1957.3 1163.5V1182.2M1959.9 1169.5V1185.4M1962.5 1162.4V1192.0M1965.1 1160.4V1181.7M1967.7 1164.6V1178.9M1970.3 1168.0V1184.7M1972.9 1170.0V1187.8M1975.5 1170.3V1186.6M1978.1 1169.8V1183.1M1980.7 1176.4V1187.3M1983.3 1172.7V1191.4M1985.9 1172.5V1197.8M1988.5 1166.0V1191.8M1991.1 1164.7V1195.4M1993.7 1169.9V1182.9M1996.3 1163.5V1185.7M1998.9 1168.1V1185.5M2001.5 1155.6V1189.5M2004.1 1162.5V1179.1M2006.7 1168.5V1182.4M2009.3 1173.3V1184.7M2011.9 1169.6V1186.8M2014.5 1165.7V1188.1M2017.1 1165.1V1194.0M2019.7 1160.4V1184.3M2022.3 1161.5V1180.5M2024.9 1170.6V1188.9M2027.5 1171.8V1181.9M2030.1 1175.1V1191.5M2032.7 1173.9V1189.4M2035.3 1169.4V1190.9M2037.9 1158.5V1187.5M2040.5 1171.4V1186.8M2043.1 1172.9V1185.8M2045.7 1170.4V1182.8M2048.3 1169.2V1186.7M2049.9 1174.9V1187.3" stroke="#0000ff"/>
<path d="M186.7 823.2V845.9M189.3 827.2V874.3M191.9 827.9V855.4M194.5 819.6V869.8M197.1 827.0V868.8M199.7 815.1V867.8M202.3 831.5V863.6M204.9 811.7V867.2M207.5 816.6V852.4M210.1 819.0V888.1M212.7 810.1V887.2M215.3 836.3V881.4M217.9 836.4V885.4M220.5 842.3V880.5M223.1 842.7V890.6M225.7 832.6V884.0M228.3 791.7V886.2M230.9 843.5V879.7M233.5 841.9V885.3M236.1 852.0V882.2M238.7 832.7V883.3M241.3 862.1V884.1M243.9 848.1V893.3M246.5 847.0V910.7M249.1 868.7V907.2M251.7 871.6V904.7M254.3 880.3V921.6M256.9 869.2V921.1M259.5 901.7V934.4M262.1 880.1V917.1M264.7 884.7V920.7M267.3 898.8V949.7M269.9 899.5V950.6M272.5 911.4V941.0M275.1 898.6V946.7M277.7 899.6V931.6M280.3 901.4V921.2M282.9 913.3V948.9M285.5 904.7V948.3M288.1 898.6V960.9M290.7 924.4V939.8M293.3 920.4V975.7M295.9 919.0V981.3M298.5 928.4V986.8M301.1 937.2V963.8M303.7 948.9V971.6M306.3 947.1V1006.3M308.9 939.6V975.9M311.5 956.9V1003.9M314.1 955.7V991.9M316.7 950.9V981.0M319.3 957.3V1003.7M321.9 945.3V982.0M324.5 935.8V982.9M327.1 941.6V987.4M329.7 916.1V986.0M332.3 940.5V977.9M334.9 956.6V998.3M337.5 942.8V995.2M340.1 938.3V990.1M342.7 952.8V970.8M345.3 947.5V981.1M347.9 957.4V1008.2M350.5 956.0V973.8M353.1 959.8V1002.5M355.7 943.6V1004.6M358.3 958.2V976.6M360.9 941.8V996.0M363.5 955.4V986.0M366.1 969.5V991.5M368.7 941.0V1004.3M371.3 952.3V986.9M373.9 960.7V994.2M376.5 964.1V991.6M379.1 964.2V1002.5M381.7 947.7V977.9M384.3 950.5V1002.3M386.9 960.0V992.8M389.5 960.1V1004.9M392.1 958.9V985.3M394.7 963.1V1012.0M397.3 959.9V995.8M399.9 955.2V1007.4M402.5 962.9V997.3M405.1 961.8V997.7M407.7 965.5V1003.3M410.3 967.4V1010.9M412.9 962.8V988.9M415.5 947.3V976.8M418.1 940.6V983.6M420.7 952.6V983.0M423.3 936.5V979.9M425.9 958.4V986.0M428.5 955.0V995.9M431.1 957.6V995.8M433.7 951.5V1000.4M436.3 957.9V1001.8M438.9 948.8V969.2M441.5 946.5V984.0M444.1 938.5V970.3M446.7 942.7V985.8M449.3 936.9V976.2M451.9 937.2V972.4M454.5 924.9V986.0M457.1 932.7V974.5M459.7 925.4V968.5M462.3 957.4V975.0M464.9 944.5V989.2M467.5 936.7V975.9M470.1 955.9V979.0M472.7 941.4V983.6M475.3 944.0V978.4M477.9 936.6V998.3M480.5 946.9V977.3M483.1 945.7V977.6M485.7 939.8V997.1M488.3 922.2V975.3M490.9 960.7V991.3M493.5 951.7V995.6M496.1 934.1V988.1M498.7 951.8V993.1M501.3 943.6V980.5M503.9 951.2V990.4M506.5 959.3V979.0M509.1 958.0V993.8M511.7 968.5V1000.7M514.3 931.8V1006.4M516.9 959.4V991.2M519.5 957.3V990.1M522.1 982.4V1004.0M524.7 963.9V992.4M527.3 975.6V1006.5M529.9 961.0V998.2M532.5 972.6V1000.9M535.1 968.1V989.6M537.7 971.7V996.1M540.3 976.6V995.1M542.9 973.9V1007.3M545.5 975.0V1010.2M548.1 984.2V1024.3M550.7 982.1V1014.6M553.3 984.5V1025.7M555.9 964.9V997.7M558.5 965.0V1009.6M561.1 977.3V1011.4M563.7 983.4V1026.5M566.3 984.8V1024.7M568.9 983.2V1017.5M571.5 977.9V1021.0M574.1 993.0V1022.4M576.7 996.2V1035.3M579.3 996.4V1018.4M581.9 1010.8V1036.5M584.5 1017.6V1047.0M587.1 995.4V1042.6M589.7 999.5V1044.0M592.3 999.8V1024.4M594.9 1000.5V1026.1M597.5 1010.0V1035.2M600.1 1015.6V1047.4M602.7 994.3V1047.8M605.3 985.4V1059.0M607.9 1015.3V1041.8M610.5 1012.5V1033.5M613.1 1003.9V1042.0M615.7 1012.0V1055.6M618.3 1013.7V1037.4M620.9 1004.8V1041.5M623.5 1017.7V1053.0M626.1 1028.3V1065.3M628.7 1021.6V1044.2M631.3 1023.3V1060.0M633.9 1019.1V1065.6M636.5 1030.8V1055.9M639.1 1012.6V1052.9M641.7 1021.3V1061.8M644.3 1024.4V1065.4M646.9 1016.0V1056.1M649.5 1022.9V1054.7M652.1 1036.2V1056.6M654.7 1023.5V1069.8M657.3 1043.8V1069.6M659.9 1043.1V1065.5M662.5 1044.9V1078.4M665.1 1029.4V1062.9M667.7 1040.2V1067.4M670.3 1043.8V1067.3M672.9 1038.3V1080.4M675.5 1050.1V1075.5M678.1 1050.5V1086.5M680.7 1030.0V1068.5M683.3 1042.4V1079.4M685.9 1061.9V1083.8M688.5 1062.0V1083.6M691.1 1061.9V1075.4M693.7 1057.1V1096.9M696.3 1067.2V1092.4M698.9 1067.3V1093.4M701.5 1068.9V1091.6M704.1 1050.3V1101.6M706.7 1065.9V1100.3M709.3 1066.6V1097.3M711.9 1068.4V1094.2M714.5 1066.9V1097.0M717.1 1063.9V1103.4M719.7 1071.7V1107.0M722.3 1075.5V1112.5M724.9 1081.0V1094.6M727.5 1076.5V1103.4M730.1 1083.0V1102.5M732.7 1079.8V1112.7M735.3 1075.8V1109.4M737.9 1085.8V1102.3M740.5 1074.0V1102.9M743.1 1089.1V1130.1M745.7 1076.1V1113.7M748.3 1092.1V1104.4M750.9 1089.7V1117.3M753.5 1086.7V1117.4M756.1 1086.5V1110.2M758.7 1074.6V1117.7M761.3 1100.1V1116.2M763.9 1083.9V1109.1M766.5 1085.1V1099.6M769.1 1083.2V1120.1M771.7 1073.8V1122.6M774.3 1093.3V1127.0M776.9 1084.9V1125.4M779.5 1099.6V1115.6M782.1 1087.4V1113.3M784.7 1080.2V1113.0M787.3 1097.2V1135.5M789.9 1103.2V1135.2M792.5 1109.7V1130.7M795.1 1105.5V1121.4M797.7 1110.1V1134.4M800.3 1105.8V1125.3M802.9 1104.3V1130.2M805.5 1101.0V1125.7M808.1 1113.0V1129.5M810.7 1117.0V1138.1M813.3 1120.6V1135.6M815.9 1107.5V1136.1M818.5 1109.5V1144.8M821.1 1116.9V1154.6M823.7 1114.7V1147.1M826.3 1118.7V1140.2M828.9 1120.0V1145.5M831.5 1118.7V1145.1M834.1 1110.3V1146.2M836.7 1129.6V1149.2M839.3 1114.7V1150.2M841.9 1118.2V1145.2M844.5 1113.8V1152.7M847.1 1125.4V1151.9M849.7 1125.4V1147.7M852.3 1128.8V1148.7M854.9 1126.1V1164.7M857.5 1121.8V1151.8M860.1 1116.6V1161.5M862.7 1132.1V1154.3M865.3 1135.8V1156.2M867.9 1111.7V1152.5M870.5 1125.9V1171.0M873.1 1131.8V1157.6M875.7 1117.0V1159.7M878.3 1126.9V1153.8M880.9 1122.4V1160.8M883.5 1119.1V1156.3M886.1 1136.3V1157.3M888.7 1139.7V1150.9M891.3 1134.2V1151.7M893.9 1120.6V1151.5M896.5 1125.7V1156.0M899.1 1126.0V1166.4M901.7 1130.2V1159.7M904.3 1129.3V1154.7M906.9 1130.5V1154.8M909.5 1127.8V1155.4M912.1 1132.7V1166.5M914.7 1133.0V1161.5M917.3 1134.0V1160.4M919.9 1135.1V1160.2M922.5 1141.7V1157.7M925.1 1138.7V1158.1M927.7 1139.2V1155.0M930.3 1140.7V1158.1M932.9 1145.4V1166.9M935.5 1143.5V1165.4M938.1 1141.0V1159.4M940.7 1140.3V1165.7M943.3 1143.9V1169.9M945.9 1145.6V1163.3M948.5 1137.2V1165.6M951.1 1143.9V1160.5M953.7 1143.4V1166.3M956.3 1148.7V1169.4M958.9 1140.7V1173.4M961.5 1152.7V1176.1M964.1 1141.8V1172.6M966.7 1156.3V1175.5M969.3 1152.1V1178.1M971.9 1147.9V1182.5M974.5 1142.3V1185.0M977.1 1153.1V1171.5M979.7 1150.5V1196.6M982.3 1152.8V1182.9M984.9 1154.9V1178.2M987.5 1153.9V1176.3M990.1 1145.4V1169.5M992.7 1152.8V1175.2M995.3 1152.1V1178.3M997.9 1153.3V1186.9M1000.5 1157.1V1176.3M1003.1 1152.6V1181.5M1005.7 1157.7V1183.8M1008.3 1155.9V1177.3M1010.9 1154.5V1190.9M1013.5 1150.7V1165.5M1016.1 1154.0V1170.4M1018.7 1158.9V1183.1M1021.3 1163.5V1177.0M1023.9 1155.1V1175.6M1026.5 1153.1V1174.2M1029.1 1166.9V1179.9M1031.7 1153.0V1178.2M1034.3 1145.0V1178.0M1036.9 1146.7V1179.0M1039.5 1162.9V1192.0M1042.1 1164.7V1184.4M1044.7 1164.3V1184.8M1047.3 1156.1V1176.4M1049.9 1162.2V1179.0M1052.5 1155.4V1180.6M1055.1 1154.1V1183.4M1057.7 1166.0V1189.4M1060.3 1162.1V1198.2M1062.9 1163.3V1192.1M1065.5 1155.1V1192.1M1068.1 1155.3V1189.3M1070.7 1164.2V1191.7M1073.3 1163.5V1190.1M1075.9 1164.9V1194.9M1078.5 1176.9V1188.2M1081.1 1167.2V1196.0M1083.7 1163.3V1195.5M1086.3 1168.0V1202.5M1088.9 1163.8V1198.1M1091.5 1170.7V1184.7M1094.1 1175.7V1195.5M1096.7 1167.1V1192.9M1099.3 1165.9V1196.4M1101.9 1164.2V1201.5M1104.5 1165.2V1189.4M1107.1 1162.8V1189.3M1109.7 1174.0V1207.5M1112.3 1174.6V1196.4M1114.9 1178.6V1191.3M1117.5 1173.2V1210.6M1120.1 1178.1V1195.0M1122.7 1181.6V1197.6M1125.3 1168.9V1198.4M1127.9 1175.4V1199.2M1130.5 1181.1V1194.8M1133.1 1178.7V1201.8M1135.7 1177.1V1193.4M1138.3 1178.3V1203.0M1140.9 1166.8V1196.3M1143.5 1173.0V1195.3M1146.1 1169.1V1189.6M1148.7 1170.2V1204.4M1151.3 1173.1V1190.8M1153.9 1172.7V1198.9M1156.5 1171.8V1203.4M1159.1 1172.5V1199.3M1161.7 1164.5V1207.1M1164.3 1180.9V1206.4M1166.9 1177.5V1198.4M1169.5 1186.6V1211.3M1172.1 1179.3V1199.3M1174.7 1165.5V1195.2M1177.3 1178.0V1202.3M1179.9 1183.9V1197.3M1182.5 1175.1V1208.8M1185.1 1177.4V1227.3M1187.7 1174.7V1211.5M1190.3 1187.3V1209.4M1192.9 1186.0V1201.6M1195.5 1180.3V1210.1M1198.1 1187.9V1209.5M1200.7 1183.0V1204.5M1203.3 1189.3V1208.7M1205.9 1184.6V1210.3M1208.5 1182.7V1210.9M1211.1 1187.5V1211.7M1213.7 1190.7V1212.3M1216.3 1178.0V1203.3M1218.9 1183.2V1214.9M1221.5 1189.6V1203.2M1224.1 1186.8V1208.6M1226.7 1182.8V1212.7M1229.3 1193.7V1216.5M1231.9 1187.0V1220.2M1234.5 1193.0V1213.5M1237.1 1194.9V1221.3M1239.7 1194.2V1214.5M1242.3 1197.0V1209.0M1244.9 1188.1V1214.4M1247.5 1198.5V1214.2M1250.1 1192.7V1218.9M1252.7 1192.9V1216.0M1255.3 1189.0V1213.6M1257.9 1186.0V1212.6M1260.5 1191.8V1221.5M1263.1 1194.8V1217.0M1265.7 1191.5V1210.4M1268.3 1190.2V1211.0M1270.9 1193.2V1216.0M1273.5 1186.4V1224.5M1276.1 1194.2V1233.2M1278.7 1193.0V1213.3M1281.3 1193.6V1211.9M1283.9 1188.7V1219.1M1286.5 1189.1V1213.4M1289.1 1201.1V1215.1M1291.7 1194.6V1210.9M1294.3 1201.5V1218.1M1296.9 1202.6V1225.8M1299.5 1189.7V1219.2M1302.1 1195.0V1216.7M1304.7 1199.3V1226.6M1307.3 1205.0V1218.4M1309.9 1205.1V1232.4M1312.5 1202.6V1219.9M1315.1 1202.9V1225.2M1317.7 1188.0V1222.5M1320.3 1199.3V1227.2M1322.9 1196.2V1225.2M1325.5 1196.4V1217.6M1328.1 1209.8V1232.3M1330.7 1204.6V1239.9M1333.3 1198.5V1228.4M1335.9 1213.3V1245.1M1338.5 1207.7V1217.4M1341.1 1207.7V1234.4M1343.7 1202.7V1233.9M1346.3 1210.2V1234.3M1348.9 1211.1V1232.3M1351.5 1208.3V1225.6M1354.1 1208.3V1232.3M1356.7 1201.8V1234.7M1359.3 1204.7V1232.1M1361.9 1205.2V1220.6M1364.5 1210.2V1236.1M1367.1 1203.7V1231.8M1369.7 1204.1V1230.8M1372.3 1203.9V1239.6M1374.9 1216.8V1231.5M1377.5 1214.7V1225.8M1380.1 1217.3V1232.2M1382.7 1213.0V1229.8M1385.3 1203.6V1231.5M1387.9 1211.6V1232.5M1390.5 1211.5V1239.2M1393.1 1214.4V1230.0M1395.7 1212.5V1231.9M1398.3 1210.9V1232.8M1400.9 1209.1V1238.6M1403.5 1212.2V1228.7M1406.1 1213.5V1229.9M1408.7 1211.7V1230.0M1411.3 1203.8V1233.3M1413.9 1213.8V1230.4M1416.5 1209.8V1224.8M1419.1 1210.4V1222.5M1421.7 1218.8V1237.4M1424.3 1210.4V1237.1M1426.9 1203.5V1227.7M1429.5 1208.3V1227.8M1432.1 1204.4V1230.2M1434.7 1209.4V1232.4M1437.3 1204.2V1222.7M1439.9 1210.9V1226.1M1442.5 1209.7V1225.0M1445.1 1203.8V1223.8M1447.7 1209.0V1231.0M1450.3 1214.7V1230.8M1452.9 1216.9V1227.9M1455.5 1198.9V1234.3M1458.1 1203.4V1230.4M1460.7 1211.2V1230.6M1463.3 1208.4V1235.3M1465.9 1201.5V1229.6M1468.5 1213.2V1237.6M1471.1 1215.3V1227.6M1473.7 1212.0V1233.9M1476.3 1208.4V1229.5M1478.9 1209.5V1238.0M1481.5 1215.1V1237.6M1484.1 1214.2V1231.7M1486.7 1216.6V1232.3M1489.3 1214.3V1234.3M1491.9 1221.0V1240.9M1494.5 1212.5V1238.7M1497.1 1220.9V1233.9M1499.7 1226.0V1243.3M1502.3 1216.5V1240.9M1504.9 1223.0V1237.9M1507.5 1232.4V1239.1M1510.1 1220.0V1240.8M1512.7 1217.1V1240.3M1515.3 1215.9V1246.4M1517.9 1220.8V1247.6M1520.5 1214.0V1241.6M1523.1 1209.1V1237.4M1525.7 1213.2V1237.5M1528.3 1222.3V1242.7M1530.9 1220.0V1239.3M1533.5 1226.0V1244.4M1536.1 1210.3V1239.1M1538.7 1216.4V1253.1M1541.3 1210.4V1236.4M1543.9 1218.8V1238.3M1546.5 1221.3V1238.3M1549.1 1214.1V1237.5M1551.7 1224.6V1237.4M1554.3 1221.5V1251.0M1556.9 1208.2V1240.7M1559.5 1212.0V1237.8M1562.1 1217.6V1237.2M1564.7 1217.6V1246.7M1567.3 1214.6V1248.4M1569.9 1210.4V1242.3M1572.5 1226.6V1241.9M1575.1 1221.5V1238.3M1577.7 1222.7V1234.5M1580.3 1217.8V1235.4M1582.9 1213.8V1249.1M1585.5 1224.8V1245.8M1588.1 1218.3V1243.1M1590.7 1225.2V1251.9M1593.3 1215.1V1248.9M1595.9 1221.6V1242.7M1598.5 1225.5V1246.7M1601.1 1225.9V1249.7M1603.7 1206.7V1235.8M1606.3 1213.9V1243.5M1608.9 1222.1V1246.2M1611.5 1226.5V1242.6M1614.1 1224.6V1238.8M1616.7 1226.6V1243.6M1619.3 1226.7V1241.0M1621.9 1221.3V1242.5M1624.5 1213.4V1244.5M1627.1 1219.5V1249.1M1629.7 1221.7V1245.8M1632.3 1217.8V1245.8M1634.9 1221.3V1250.1M1637.5 1218.3V1252.4M1640.1 1220.7V1244.7M1642.7 1221.9V1245.6M1645.3 1224.3V1237.9M1647.9 1226.2V1249.1M1650.5 1229.3V1251.5M1653.1 1222.8V1254.4M1655.7 1233.8V1251.4M1658.3 1226.8V1242.5M1660.9 1226.7V1242.7M1663.5 1229.0V1252.4M1666.1 1227.4V1252.8M1668.7 1230.0V1245.6M1671.3 1227.4V1251.9M1673.9 1233.6V1248.8M1676.5 1227.4V1244.5M1679.1 1227.9V1245.0M1681.7 1232.0V1251.9M1684.3 1228.8V1245.8M1686.9 1230.6V1244.5M1689.5 1222.4V1249.1M1692.1 1225.3V1246.0M1694.7 1232.1V1254.4M1697.3 1240.2V1252.6M1699.9 1230.8V1256.7M1702.5 1236.7V1254.0M1705.1 1235.0V1258.4M1707.7 1233.8V1254.3M1710.3 1235.8V1261.1M1712.9 1225.0V1245.8M1715.5 1231.2V1254.3M1718.1 1220.4V1249.8M1720.7 1240.3V1253.5M1723.3 1231.0V1250.1M1725.9 1234.1V1261.1M1728.5 1236.8V1251.7M1731.1 1230.4V1250.2M1733.7 1230.6V1268.9M1736.3 1235.3V1253.3M1738.9 1237.9V1258.0M1741.5 1240.3V1261.4M1744.1 1240.3V1256.3M1746.7 1232.8V1265.5M1749.3 1233.3V1261.6M1751.9 1235.6V1251.3M1754.5 1228.8V1259.3M1757.1 1239.3V1259.2M1759.7 1238.3V1250.6M1762.3 1235.0V1253.8M1764.9 1237.3V1252.7M1767.5 1237.5V1253.1M1770.1 1234.1V1249.8M1772.7 1236.2V1254.0M1775.3 1238.6V1259.9M1777.9 1236.0V1258.9M1780.5 1238.2V1255.8M1783.1 1234.5V1254.2M1785.7 1237.9V1258.8M1788.3 1234.3V1264.4M1790.9 1239.8V1256.9M1793.5 1239.7V1258.3M1796.1 1232.8V1258.0M1798.7 1233.3V1261.1M1801.3 1236.6V1257.3M1803.9 1241.0V1263.7M1806.5 1243.8V1258.1M1809.1 1243.5V1261.4M1811.7 1238.7V1248.5M1814.3 1241.4V1262.8M1816.9 1238.0V1267.7M1819.5 1241.2V1259.3M1822.1 1237.2V1266.7M1824.7 1241.8V1260.6M1827.3 1238.7V1269.5M1829.9 1236.9V1263.2M1832.5 1243.8V1266.0M1835.1 1243.8V1257.7M1837.7 1240.6V1258.7M1840.3 1232.7V1254.2M1842.9 1232.0V1261.7M1845.5 1249.0V1263.7M1848.1 1238.7V1252.5M1850.7 1237.5V1256.0M1853.3 1227.3V1259.1M1855.9 1238.6V1262.9M1858.5 1239.7V1261.6M1861.1 1231.5V1265.5M1863.7 1234.7V1264.6M1866.3 1238.1V1257.6M1868.9 1226.2V1255.9M1871.5 1242.0V1271.5M1874.1 1249.2V1262.8M1876.7 1243.0V1259.4M1879.3 1241.8V1258.9M1881.9 1239.3V1269.6M1884.5 1232.3V1259.4M1887.1 1238.2V1264.1M1889.7 1243.9V1259.8M1892.3 1243.9V1262.2M1894.9 1240.1V1274.8M1897.5 1238.6V1257.5M1900.1 1238.0V1265.1M1902.7 1247.8V1267.0M1905.3 1242.3V1263.0M1907.9 1240.8V1260.6M1910.5 1250.5V1269.8M1913.1 1232.5V1266.9M1915.7 1242.8V1263.7M1918.3 1246.7V1256.4M1920.9 1236.8V1267.0M1923.5 1239.6V1264.5M1926.1 1245.6V1262.6M1928.7 1241.0V1256.8M1931.3 1247.4V1262.4M1933.9 1232.6V1262.4M1936.5 1241.8V1254.8M1939.1 1226.0V1259.0M1941.7 1231.0V1255.1M1944.3 1241.5V1256.5M1946.9 1236.3V1270.1M1949.5 1236.7V1257.6M1952.1 1241.4V1254.0M1954.7 1240.8V1254.4M1957.3 1240.9V1261.9M1959.9 1242.2V1262.3M1962.5 1237.3V1257.0M1965.1 1235.7V1256.1M1967.7 1242.4V1257.6M1970.3 1239.4V1258.7M1972.9 1242.7V1258.3M1975.5 1238.2V1260.2M1978.1 1243.0V1256.1M1980.7 1240.8V1255.4M1983.3 1239.0V1262.5M1985.9 1245.5V1268.9M1988.5 1229.6V1265.6M1991.1 1237.8V1247.7M1993.7 1233.2V1260.9M1996.3 1242.7V1259.7M1998.9 1248.4V1257.6M2001.5 1241.4V1264.2M2004.1 1236.4V1262.2M2006.7 1242.3V1258.1M2009.3 1247.6V1258.9M2011.9 1246.7V1255.0M2014.5 1237.0V1265.9M2017.1 1234.3V1261.1M2019.7 1239.4V1266.3M2022.3 1240.7V1264.9M2024.9 1244.5V1261.5M2027.5 1230.8V1258.7M2030.1 1244.4V1257.8M2032.7 1248.8V1275.6M2035.3 1240.1V1261.4M2037.9 1238.9V1261.4M2040.5 1246.8V1257.6M2043.1 1247.7V1262.3M2045.7 1247.7V1264.6M2048.3 1246.2V1255.7M2049.9 1240.1V1253.2" stroke="#008000"/>
</g>
<g stroke="#000" stroke-width="7.2">
<line x1="185.4" y1="1373" x2="185.4" y2="1387.2"/>
<line x1="451.9" y1="1373" x2="451.9" y2="1394.5"/>
<line x1="718.5" y1="1373" x2="718.5" y2="1387.2"/>
<line x1="985.0" y1="1373" x2="985.0" y2="1394.5"/>
<line x1="1251.6" y1="1373" x2="1251.6" y2="1387.2"/>
<line x1="1518.1" y1="1373" x2="1518.1" y2="1394.5"/>
<line x1="1784.7" y1="1373" x2="1784.7" y2="1387.2"/>
<line x1="2051.2" y1="1373" x2="2051.2" y2="1394.5"/>
</g>
<g class="tl">
<text x="450.4" y="1473.5">20</text>
<text x="983.5" y="1473.5">40</text>
<text x="1516.6" y="1473.5">60</text>
<text x="2049.7" y="1473.5" textLength="61.5" lengthAdjust="spacingAndGlyphs">80</text>
</g>
<text class="ax" x="1117.3" y="1600" text-anchor="middle" textLength="414.2" lengthAdjust="spacingAndGlyphs">2θ  (degree)</text>
<text class="ax" style="font-size:73.6px" transform="translate(74.6 699.5) rotate(-90)" text-anchor="middle">Intensity</text>
<g stroke-width="7.8">
<path fill="#000000" d="M1499.2 115.3H1619.3V118.1H1622.1V122.7H1496.3V118.1H1499.2Z"/>
<path fill="#800000" d="M1496.3 191.4H1622.1V196.7H1619.3V199.2H1499.2V196.7H1496.3Z"/>
<path fill="#ff0000" d="M1496.3 272.9H1622.1V281.0H1499.2V277.8H1496.3Z"/>
<path fill="#0000ff" d="M1496.3 354.2H1622.1V362.0H1499.2V359.5H1496.3Z"/>
<path fill="#008000" d="M1496.3 436.1H1622.1V443.5H1499.2V441.0H1496.3Z"/>
<text class="lg" x="1647.0" y="136.0" textLength="327.4" lengthAdjust="spacingAndGlyphs">succinoglycan</text>
<text class="lg" x="1646.3" y="201.0" textLength="72.8" lengthAdjust="spacingAndGlyphs">SC</text>
<text class="sub" x="1718.0" y="217.0" textLength="49.0" lengthAdjust="spacingAndGlyphs">6.6</text>
<text class="lg" x="1646.3" y="282.8" textLength="72.8" lengthAdjust="spacingAndGlyphs">SC</text>
<text class="sub" x="1719.5" y="299.0" textLength="70.0" lengthAdjust="spacingAndGlyphs">13.2</text>
<text class="lg" x="1646.3" y="363.9" textLength="72.8" lengthAdjust="spacingAndGlyphs">SC</text>
<text class="sub" x="1718.0" y="380.0" textLength="70.0" lengthAdjust="spacingAndGlyphs">26.4</text>
<text class="lg" x="1646.3" y="445.6" textLength="72.8" lengthAdjust="spacingAndGlyphs">SC</text>
<text class="sub" x="1718.5" y="461.2" textLength="71.0" lengthAdjust="spacingAndGlyphs">52.8</text>
</g>
</svg>
</body></html>
